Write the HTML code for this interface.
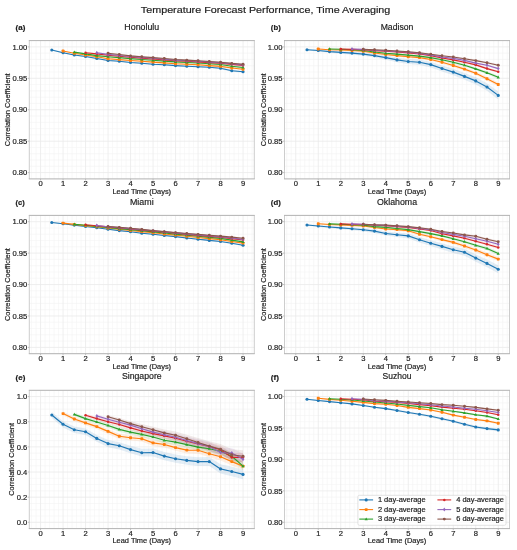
<!DOCTYPE html>
<html><head><meta charset="utf-8"><style>
html,body{margin:0;padding:0;background:#fff;}
body{width:517px;height:550px;overflow:hidden;}
svg{display:block;filter:blur(0.35px);}
text{font-family:"Liberation Sans",sans-serif;fill:#1c1c1c;stroke:#1c1c1c;stroke-width:0.18px;}
</style></head><body>
<svg width="517" height="550" viewBox="0 0 517 550">
<rect x="0" y="0" width="517" height="550" fill="#fff"/>
<text x="265.55" y="12.50" font-size="9.60" text-anchor="middle" textLength="249.38" lengthAdjust="spacingAndGlyphs">Temperature Forecast Performance, Time Averaging</text>
<path d="M31.55 40.60V178.90M36.05 40.60V178.90M45.05 40.60V178.90M49.55 40.60V178.90M54.05 40.60V178.90M58.55 40.60V178.90M67.55 40.60V178.90M72.05 40.60V178.90M76.55 40.60V178.90M81.05 40.60V178.90M90.05 40.60V178.90M94.55 40.60V178.90M99.05 40.60V178.90M103.55 40.60V178.90M112.55 40.60V178.90M117.05 40.60V178.90M121.55 40.60V178.90M126.05 40.60V178.90M135.05 40.60V178.90M139.55 40.60V178.90M144.05 40.60V178.90M148.55 40.60V178.90M157.55 40.60V178.90M162.05 40.60V178.90M166.55 40.60V178.90M171.05 40.60V178.90M180.05 40.60V178.90M184.55 40.60V178.90M189.05 40.60V178.90M193.55 40.60V178.90M202.55 40.60V178.90M207.05 40.60V178.90M211.55 40.60V178.90M216.05 40.60V178.90M225.05 40.60V178.90M229.55 40.60V178.90M234.05 40.60V178.90M238.55 40.60V178.90M247.55 40.60V178.90M252.05 40.60V178.90M29.30 178.90H254.30M29.30 166.33H254.30M29.30 160.04H254.30M29.30 153.75H254.30M29.30 147.47H254.30M29.30 134.90H254.30M29.30 128.61H254.30M29.30 122.32H254.30M29.30 116.04H254.30M29.30 103.46H254.30M29.30 97.18H254.30M29.30 90.89H254.30M29.30 84.60H254.30M29.30 72.03H254.30M29.30 65.75H254.30M29.30 59.46H254.30M29.30 53.17H254.30M29.30 40.60H254.30" stroke="#f3f3f3" stroke-width="0.6" fill="none"/>
<path d="M40.55 40.60V178.90M63.05 40.60V178.90M85.55 40.60V178.90M108.05 40.60V178.90M130.55 40.60V178.90M153.05 40.60V178.90M175.55 40.60V178.90M198.05 40.60V178.90M220.55 40.60V178.90M243.05 40.60V178.90M29.30 172.61H254.30M29.30 141.18H254.30M29.30 109.75H254.30M29.30 78.32H254.30M29.30 46.89H254.30" stroke="#eaeaea" stroke-width="0.8" fill="none"/>
<path d="M51.80 49.40 L63.05 52.08 L74.30 54.35 L85.55 55.83 L96.80 57.81 L108.05 59.78 L119.30 60.56 L130.55 61.74 L141.80 62.41 L153.05 63.39 L164.30 63.96 L175.55 64.74 L186.80 65.32 L198.05 65.79 L209.30 66.27 L220.55 67.35 L231.80 69.72 L243.05 70.80 L243.05 72.80 L231.80 71.68 L220.55 69.25 L209.30 68.13 L198.05 67.61 L186.80 67.08 L175.55 66.46 L164.30 65.64 L153.05 65.01 L141.80 63.99 L130.55 63.26 L119.30 62.04 L108.05 61.22 L96.80 59.19 L85.55 57.17 L74.30 55.65 L63.05 53.32 L51.80 50.60Z" fill="#1f77b4" fill-opacity="0.12" stroke="none"/>
<path d="M63.05 50.40 L74.30 52.67 L85.55 54.35 L96.80 56.12 L108.05 58.00 L119.30 58.88 L130.55 59.75 L141.80 60.52 L153.05 61.30 L164.30 62.08 L175.55 62.85 L186.80 63.38 L198.05 63.90 L209.30 64.67 L220.55 65.45 L231.80 67.03 L243.05 68.20 L243.05 70.20 L231.80 68.97 L220.55 67.35 L209.30 66.52 L198.05 65.70 L186.80 65.12 L175.55 64.55 L164.30 63.73 L153.05 62.90 L141.80 62.07 L130.55 61.25 L119.30 60.33 L108.05 59.40 L96.80 57.47 L85.55 55.65 L74.30 53.92 L63.05 51.60Z" fill="#ff7f0e" fill-opacity="0.12" stroke="none"/>
<path d="M74.30 51.50 L85.55 53.27 L96.80 54.95 L108.05 56.02 L119.30 56.94 L130.55 57.87 L141.80 58.69 L153.05 59.51 L164.30 60.29 L175.55 61.06 L186.80 61.58 L198.05 62.11 L209.30 62.83 L220.55 63.55 L231.80 65.23 L243.05 66.50 L243.05 68.50 L231.80 67.17 L220.55 65.45 L209.30 64.67 L198.05 63.89 L186.80 63.32 L175.55 62.74 L164.30 61.91 L153.05 61.09 L141.80 60.21 L130.55 59.33 L119.30 58.36 L108.05 57.38 L96.80 56.25 L85.55 54.53 L74.30 52.70Z" fill="#2ca02c" fill-opacity="0.12" stroke="none"/>
<path d="M85.55 52.10 L96.80 53.27 L108.05 54.54 L119.30 55.51 L130.55 56.49 L141.80 57.36 L153.05 58.23 L164.30 59.05 L175.55 59.87 L186.80 60.44 L198.05 61.01 L209.30 61.69 L220.55 62.36 L231.80 63.38 L243.05 64.40 L243.05 66.40 L231.80 65.32 L220.55 64.24 L209.30 63.51 L198.05 62.79 L186.80 62.16 L175.55 61.53 L164.30 60.65 L153.05 59.77 L141.80 58.84 L130.55 57.91 L119.30 56.89 L108.05 55.86 L96.80 54.53 L85.55 53.30Z" fill="#d62728" fill-opacity="0.12" stroke="none"/>
<path d="M96.80 52.10 L108.05 53.77 L119.30 54.79 L130.55 55.81 L141.80 56.68 L153.05 57.55 L164.30 58.42 L175.55 59.28 L186.80 59.85 L198.05 60.42 L209.30 61.09 L220.55 61.76 L231.80 62.83 L243.05 63.90 L243.05 65.90 L231.80 64.77 L220.55 63.64 L209.30 62.91 L198.05 62.18 L186.80 61.55 L175.55 60.92 L164.30 59.98 L153.05 59.05 L141.80 58.12 L130.55 57.19 L119.30 56.11 L108.05 55.03 L96.80 53.30Z" fill="#9467bd" fill-opacity="0.12" stroke="none"/>
<path d="M108.05 52.60 L119.30 53.92 L130.55 55.23 L141.80 56.05 L153.05 56.87 L164.30 57.78 L175.55 58.70 L186.80 59.32 L198.05 59.93 L209.30 60.60 L220.55 61.27 L231.80 62.43 L243.05 63.30 L243.05 65.30 L231.80 64.37 L220.55 63.13 L209.30 62.40 L198.05 61.67 L186.80 60.98 L175.55 60.30 L164.30 59.32 L153.05 58.33 L141.80 57.45 L130.55 56.57 L119.30 55.18 L108.05 53.80Z" fill="#8c564b" fill-opacity="0.12" stroke="none"/>
<path d="M51.80 50.00 L63.05 52.70 L74.30 55.00 L85.55 56.50 L96.80 58.50 L108.05 60.50 L119.30 61.30 L130.55 62.50 L141.80 63.20 L153.05 64.20 L164.30 64.80 L175.55 65.60 L186.80 66.20 L198.05 66.70 L209.30 67.20 L220.55 68.30 L231.80 70.70 L243.05 71.80" stroke="#1f77b4" stroke-width="1.15" fill="none" stroke-linejoin="round"/>
<circle cx="51.80" cy="50.00" r="1.55" fill="#1f77b4"/>
<circle cx="63.05" cy="52.70" r="1.55" fill="#1f77b4"/>
<circle cx="74.30" cy="55.00" r="1.55" fill="#1f77b4"/>
<circle cx="85.55" cy="56.50" r="1.55" fill="#1f77b4"/>
<circle cx="96.80" cy="58.50" r="1.55" fill="#1f77b4"/>
<circle cx="108.05" cy="60.50" r="1.55" fill="#1f77b4"/>
<circle cx="119.30" cy="61.30" r="1.55" fill="#1f77b4"/>
<circle cx="130.55" cy="62.50" r="1.55" fill="#1f77b4"/>
<circle cx="141.80" cy="63.20" r="1.55" fill="#1f77b4"/>
<circle cx="153.05" cy="64.20" r="1.55" fill="#1f77b4"/>
<circle cx="164.30" cy="64.80" r="1.55" fill="#1f77b4"/>
<circle cx="175.55" cy="65.60" r="1.55" fill="#1f77b4"/>
<circle cx="186.80" cy="66.20" r="1.55" fill="#1f77b4"/>
<circle cx="198.05" cy="66.70" r="1.55" fill="#1f77b4"/>
<circle cx="209.30" cy="67.20" r="1.55" fill="#1f77b4"/>
<circle cx="220.55" cy="68.30" r="1.55" fill="#1f77b4"/>
<circle cx="231.80" cy="70.70" r="1.55" fill="#1f77b4"/>
<circle cx="243.05" cy="71.80" r="1.55" fill="#1f77b4"/>
<path d="M63.05 51.00 L74.30 53.30 L85.55 55.00 L96.80 56.80 L108.05 58.70 L119.30 59.60 L130.55 60.50 L141.80 61.30 L153.05 62.10 L164.30 62.90 L175.55 63.70 L186.80 64.25 L198.05 64.80 L209.30 65.60 L220.55 66.40 L231.80 68.00 L243.05 69.20" stroke="#ff7f0e" stroke-width="1.15" fill="none" stroke-linejoin="round"/>
<rect x="61.60" y="49.55" width="2.9" height="2.9" rx="0.7" fill="#ff7f0e"/>
<rect x="72.85" y="51.85" width="2.9" height="2.9" rx="0.7" fill="#ff7f0e"/>
<rect x="84.10" y="53.55" width="2.9" height="2.9" rx="0.7" fill="#ff7f0e"/>
<rect x="95.35" y="55.35" width="2.9" height="2.9" rx="0.7" fill="#ff7f0e"/>
<rect x="106.60" y="57.25" width="2.9" height="2.9" rx="0.7" fill="#ff7f0e"/>
<rect x="117.85" y="58.15" width="2.9" height="2.9" rx="0.7" fill="#ff7f0e"/>
<rect x="129.10" y="59.05" width="2.9" height="2.9" rx="0.7" fill="#ff7f0e"/>
<rect x="140.35" y="59.85" width="2.9" height="2.9" rx="0.7" fill="#ff7f0e"/>
<rect x="151.60" y="60.65" width="2.9" height="2.9" rx="0.7" fill="#ff7f0e"/>
<rect x="162.85" y="61.45" width="2.9" height="2.9" rx="0.7" fill="#ff7f0e"/>
<rect x="174.10" y="62.25" width="2.9" height="2.9" rx="0.7" fill="#ff7f0e"/>
<rect x="185.35" y="62.80" width="2.9" height="2.9" rx="0.7" fill="#ff7f0e"/>
<rect x="196.60" y="63.35" width="2.9" height="2.9" rx="0.7" fill="#ff7f0e"/>
<rect x="207.85" y="64.15" width="2.9" height="2.9" rx="0.7" fill="#ff7f0e"/>
<rect x="219.10" y="64.95" width="2.9" height="2.9" rx="0.7" fill="#ff7f0e"/>
<rect x="230.35" y="66.55" width="2.9" height="2.9" rx="0.7" fill="#ff7f0e"/>
<rect x="241.60" y="67.75" width="2.9" height="2.9" rx="0.7" fill="#ff7f0e"/>
<path d="M74.30 52.10 L85.55 53.90 L96.80 55.60 L108.05 56.70 L119.30 57.65 L130.55 58.60 L141.80 59.45 L153.05 60.30 L164.30 61.10 L175.55 61.90 L186.80 62.45 L198.05 63.00 L209.30 63.75 L220.55 64.50 L231.80 66.20 L243.05 67.50" stroke="#2ca02c" stroke-width="1.15" fill="none" stroke-linejoin="round"/>
<path d="M74.30 50.40L75.90 53.20L72.70 53.20Z" fill="#2ca02c"/>
<path d="M85.55 52.20L87.15 55.00L83.95 55.00Z" fill="#2ca02c"/>
<path d="M96.80 53.90L98.40 56.70L95.20 56.70Z" fill="#2ca02c"/>
<path d="M108.05 55.00L109.65 57.80L106.45 57.80Z" fill="#2ca02c"/>
<path d="M119.30 55.95L120.90 58.75L117.70 58.75Z" fill="#2ca02c"/>
<path d="M130.55 56.90L132.15 59.70L128.95 59.70Z" fill="#2ca02c"/>
<path d="M141.80 57.75L143.40 60.55L140.20 60.55Z" fill="#2ca02c"/>
<path d="M153.05 58.60L154.65 61.40L151.45 61.40Z" fill="#2ca02c"/>
<path d="M164.30 59.40L165.90 62.20L162.70 62.20Z" fill="#2ca02c"/>
<path d="M175.55 60.20L177.15 63.00L173.95 63.00Z" fill="#2ca02c"/>
<path d="M186.80 60.75L188.40 63.55L185.20 63.55Z" fill="#2ca02c"/>
<path d="M198.05 61.30L199.65 64.10L196.45 64.10Z" fill="#2ca02c"/>
<path d="M209.30 62.05L210.90 64.85L207.70 64.85Z" fill="#2ca02c"/>
<path d="M220.55 62.80L222.15 65.60L218.95 65.60Z" fill="#2ca02c"/>
<path d="M231.80 64.50L233.40 67.30L230.20 67.30Z" fill="#2ca02c"/>
<path d="M243.05 65.80L244.65 68.60L241.45 68.60Z" fill="#2ca02c"/>
<path d="M85.55 52.70 L96.80 53.90 L108.05 55.20 L119.30 56.20 L130.55 57.20 L141.80 58.10 L153.05 59.00 L164.30 59.85 L175.55 60.70 L186.80 61.30 L198.05 61.90 L209.30 62.60 L220.55 63.30 L231.80 64.35 L243.05 65.40" stroke="#d62728" stroke-width="1.15" fill="none" stroke-linejoin="round"/>
<circle cx="85.55" cy="52.70" r="1.25" fill="#d62728"/>
<circle cx="96.80" cy="53.90" r="1.25" fill="#d62728"/>
<circle cx="108.05" cy="55.20" r="1.25" fill="#d62728"/>
<circle cx="119.30" cy="56.20" r="1.25" fill="#d62728"/>
<circle cx="130.55" cy="57.20" r="1.25" fill="#d62728"/>
<circle cx="141.80" cy="58.10" r="1.25" fill="#d62728"/>
<circle cx="153.05" cy="59.00" r="1.25" fill="#d62728"/>
<circle cx="164.30" cy="59.85" r="1.25" fill="#d62728"/>
<circle cx="175.55" cy="60.70" r="1.25" fill="#d62728"/>
<circle cx="186.80" cy="61.30" r="1.25" fill="#d62728"/>
<circle cx="198.05" cy="61.90" r="1.25" fill="#d62728"/>
<circle cx="209.30" cy="62.60" r="1.25" fill="#d62728"/>
<circle cx="220.55" cy="63.30" r="1.25" fill="#d62728"/>
<circle cx="231.80" cy="64.35" r="1.25" fill="#d62728"/>
<circle cx="243.05" cy="65.40" r="1.25" fill="#d62728"/>
<path d="M96.80 52.70 L108.05 54.40 L119.30 55.45 L130.55 56.50 L141.80 57.40 L153.05 58.30 L164.30 59.20 L175.55 60.10 L186.80 60.70 L198.05 61.30 L209.30 62.00 L220.55 62.70 L231.80 63.80 L243.05 64.90" stroke="#9467bd" stroke-width="1.15" fill="none" stroke-linejoin="round"/>
<path d="M96.80 50.70L98.15 52.70L96.80 54.70L95.45 52.70Z" fill="#9467bd"/>
<path d="M108.05 52.40L109.40 54.40L108.05 56.40L106.70 54.40Z" fill="#9467bd"/>
<path d="M119.30 53.45L120.65 55.45L119.30 57.45L117.95 55.45Z" fill="#9467bd"/>
<path d="M130.55 54.50L131.90 56.50L130.55 58.50L129.20 56.50Z" fill="#9467bd"/>
<path d="M141.80 55.40L143.15 57.40L141.80 59.40L140.45 57.40Z" fill="#9467bd"/>
<path d="M153.05 56.30L154.40 58.30L153.05 60.30L151.70 58.30Z" fill="#9467bd"/>
<path d="M164.30 57.20L165.65 59.20L164.30 61.20L162.95 59.20Z" fill="#9467bd"/>
<path d="M175.55 58.10L176.90 60.10L175.55 62.10L174.20 60.10Z" fill="#9467bd"/>
<path d="M186.80 58.70L188.15 60.70L186.80 62.70L185.45 60.70Z" fill="#9467bd"/>
<path d="M198.05 59.30L199.40 61.30L198.05 63.30L196.70 61.30Z" fill="#9467bd"/>
<path d="M209.30 60.00L210.65 62.00L209.30 64.00L207.95 62.00Z" fill="#9467bd"/>
<path d="M220.55 60.70L221.90 62.70L220.55 64.70L219.20 62.70Z" fill="#9467bd"/>
<path d="M231.80 61.80L233.15 63.80L231.80 65.80L230.45 63.80Z" fill="#9467bd"/>
<path d="M243.05 62.90L244.40 64.90L243.05 66.90L241.70 64.90Z" fill="#9467bd"/>
<path d="M108.05 53.20 L119.30 54.55 L130.55 55.90 L141.80 56.75 L153.05 57.60 L164.30 58.55 L175.55 59.50 L186.80 60.15 L198.05 60.80 L209.30 61.50 L220.55 62.20 L231.80 63.40 L243.05 64.30" stroke="#8c564b" stroke-width="1.15" fill="none" stroke-linejoin="round"/>
<circle cx="108.05" cy="53.20" r="1.45" fill="#8c564b"/>
<circle cx="119.30" cy="54.55" r="1.45" fill="#8c564b"/>
<circle cx="130.55" cy="55.90" r="1.45" fill="#8c564b"/>
<circle cx="141.80" cy="56.75" r="1.45" fill="#8c564b"/>
<circle cx="153.05" cy="57.60" r="1.45" fill="#8c564b"/>
<circle cx="164.30" cy="58.55" r="1.45" fill="#8c564b"/>
<circle cx="175.55" cy="59.50" r="1.45" fill="#8c564b"/>
<circle cx="186.80" cy="60.15" r="1.45" fill="#8c564b"/>
<circle cx="198.05" cy="60.80" r="1.45" fill="#8c564b"/>
<circle cx="209.30" cy="61.50" r="1.45" fill="#8c564b"/>
<circle cx="220.55" cy="62.20" r="1.45" fill="#8c564b"/>
<circle cx="231.80" cy="63.40" r="1.45" fill="#8c564b"/>
<circle cx="243.05" cy="64.30" r="1.45" fill="#8c564b"/>
<path d="M29.30 40.60V178.90M254.30 40.60V178.90" fill="none" stroke="#cdcdcd" stroke-width="1"/>
<path d="M28.80 40.60H254.80M28.80 178.90H254.80" fill="none" stroke="#b3b3b3" stroke-width="1"/>
<path d="M40.55 178.90v1.6M63.05 178.90v1.6M85.55 178.90v1.6M108.05 178.90v1.6M130.55 178.90v1.6M153.05 178.90v1.6M175.55 178.90v1.6M198.05 178.90v1.6M220.55 178.90v1.6M243.05 178.90v1.6M29.30 172.61h-1.6M29.30 141.18h-1.6M29.30 109.75h-1.6M29.30 78.32h-1.6M29.30 46.89h-1.6" stroke="#b3b3b3" stroke-width="0.8" fill="none"/>
<text x="40.55" y="185.90" font-size="7.65" text-anchor="middle" textLength="4.23" lengthAdjust="spacingAndGlyphs">0</text>
<text x="63.05" y="185.90" font-size="7.65" text-anchor="middle" textLength="4.23" lengthAdjust="spacingAndGlyphs">1</text>
<text x="85.55" y="185.90" font-size="7.65" text-anchor="middle" textLength="4.23" lengthAdjust="spacingAndGlyphs">2</text>
<text x="108.05" y="185.90" font-size="7.65" text-anchor="middle" textLength="4.23" lengthAdjust="spacingAndGlyphs">3</text>
<text x="130.55" y="185.90" font-size="7.65" text-anchor="middle" textLength="4.23" lengthAdjust="spacingAndGlyphs">4</text>
<text x="153.05" y="185.90" font-size="7.65" text-anchor="middle" textLength="4.23" lengthAdjust="spacingAndGlyphs">5</text>
<text x="175.55" y="185.90" font-size="7.65" text-anchor="middle" textLength="4.23" lengthAdjust="spacingAndGlyphs">6</text>
<text x="198.05" y="185.90" font-size="7.65" text-anchor="middle" textLength="4.23" lengthAdjust="spacingAndGlyphs">7</text>
<text x="220.55" y="185.90" font-size="7.65" text-anchor="middle" textLength="4.23" lengthAdjust="spacingAndGlyphs">8</text>
<text x="243.05" y="185.90" font-size="7.65" text-anchor="middle" textLength="4.23" lengthAdjust="spacingAndGlyphs">9</text>
<text x="27.30" y="175.31" font-size="7.65" text-anchor="end" textLength="14.81" lengthAdjust="spacingAndGlyphs">0.80</text>
<text x="27.30" y="143.88" font-size="7.65" text-anchor="end" textLength="14.81" lengthAdjust="spacingAndGlyphs">0.85</text>
<text x="27.30" y="112.45" font-size="7.65" text-anchor="end" textLength="14.81" lengthAdjust="spacingAndGlyphs">0.90</text>
<text x="27.30" y="81.02" font-size="7.65" text-anchor="end" textLength="14.81" lengthAdjust="spacingAndGlyphs">0.95</text>
<text x="27.30" y="49.59" font-size="7.65" text-anchor="end" textLength="14.81" lengthAdjust="spacingAndGlyphs">1.00</text>
<text x="141.80" y="193.70" font-size="7.09" text-anchor="middle" textLength="58.61" lengthAdjust="spacingAndGlyphs">Lead Time (Days)</text>
<text x="10.40" y="109.75" font-size="6.90" text-anchor="middle" textLength="72.87" lengthAdjust="spacingAndGlyphs" transform="rotate(-90 10.40 109.75)">Correlation Coefficient</text>
<text x="141.80" y="29.70" font-size="8.66" text-anchor="middle" textLength="34.88" lengthAdjust="spacingAndGlyphs">Honolulu</text>
<text x="15.60" y="30.30" font-size="6.89" font-weight="bold" textLength="9.69" lengthAdjust="spacingAndGlyphs">(a)</text>
<path d="M286.75 40.60V178.90M291.25 40.60V178.90M300.25 40.60V178.90M304.75 40.60V178.90M309.25 40.60V178.90M313.75 40.60V178.90M322.75 40.60V178.90M327.25 40.60V178.90M331.75 40.60V178.90M336.25 40.60V178.90M345.25 40.60V178.90M349.75 40.60V178.90M354.25 40.60V178.90M358.75 40.60V178.90M367.75 40.60V178.90M372.25 40.60V178.90M376.75 40.60V178.90M381.25 40.60V178.90M390.25 40.60V178.90M394.75 40.60V178.90M399.25 40.60V178.90M403.75 40.60V178.90M412.75 40.60V178.90M417.25 40.60V178.90M421.75 40.60V178.90M426.25 40.60V178.90M435.25 40.60V178.90M439.75 40.60V178.90M444.25 40.60V178.90M448.75 40.60V178.90M457.75 40.60V178.90M462.25 40.60V178.90M466.75 40.60V178.90M471.25 40.60V178.90M480.25 40.60V178.90M484.75 40.60V178.90M489.25 40.60V178.90M493.75 40.60V178.90M502.75 40.60V178.90M507.25 40.60V178.90M284.50 178.90H509.50M284.50 166.33H509.50M284.50 160.04H509.50M284.50 153.75H509.50M284.50 147.47H509.50M284.50 134.90H509.50M284.50 128.61H509.50M284.50 122.32H509.50M284.50 116.04H509.50M284.50 103.46H509.50M284.50 97.18H509.50M284.50 90.89H509.50M284.50 84.60H509.50M284.50 72.03H509.50M284.50 65.75H509.50M284.50 59.46H509.50M284.50 53.17H509.50M284.50 40.60H509.50" stroke="#f3f3f3" stroke-width="0.6" fill="none"/>
<path d="M295.75 40.60V178.90M318.25 40.60V178.90M340.75 40.60V178.90M363.25 40.60V178.90M385.75 40.60V178.90M408.25 40.60V178.90M430.75 40.60V178.90M453.25 40.60V178.90M475.75 40.60V178.90M498.25 40.60V178.90M284.50 172.61H509.50M284.50 141.18H509.50M284.50 109.75H509.50M284.50 78.32H509.50M284.50 46.89H509.50" stroke="#eaeaea" stroke-width="0.8" fill="none"/>
<path d="M307.00 48.90 L318.25 49.51 L329.50 50.42 L340.75 51.04 L352.00 51.55 L363.25 52.36 L374.50 53.67 L385.75 55.48 L397.00 57.59 L408.25 59.01 L419.50 59.62 L430.75 61.73 L442.00 65.44 L453.25 68.85 L464.50 72.96 L475.75 77.28 L487.00 83.19 L498.25 91.40 L498.25 99.40 L487.00 90.81 L475.75 84.52 L464.50 79.84 L453.25 75.35 L442.00 71.56 L430.75 67.47 L419.50 64.98 L408.25 63.99 L397.00 62.21 L385.75 59.72 L374.50 57.53 L363.25 55.84 L352.00 54.65 L340.75 53.76 L329.50 52.78 L318.25 51.49 L307.00 50.50Z" fill="#1f77b4" fill-opacity="0.12" stroke="none"/>
<path d="M318.25 48.40 L329.50 49.01 L340.75 49.23 L352.00 49.64 L363.25 50.35 L374.50 51.96 L385.75 53.38 L397.00 54.39 L408.25 55.40 L419.50 56.21 L430.75 58.02 L442.00 60.74 L453.25 63.85 L464.50 67.36 L475.75 71.38 L487.00 76.79 L498.25 82.50 L498.25 86.50 L487.00 80.61 L475.75 75.03 L464.50 70.84 L453.25 67.15 L442.00 63.86 L430.75 60.98 L419.50 58.99 L408.25 58.00 L397.00 56.81 L385.75 55.62 L374.50 54.04 L363.25 52.25 L352.00 51.36 L340.75 50.77 L329.50 50.39 L318.25 49.60Z" fill="#ff7f0e" fill-opacity="0.12" stroke="none"/>
<path d="M329.50 48.40 L340.75 48.63 L352.00 48.97 L363.25 49.70 L374.50 51.13 L385.75 52.37 L397.00 53.10 L408.25 54.03 L419.50 54.97 L430.75 56.40 L442.00 58.43 L453.25 60.97 L464.50 63.80 L475.75 67.43 L487.00 71.27 L498.25 75.70 L498.25 78.90 L487.00 74.33 L475.75 70.37 L464.50 66.60 L453.25 63.63 L442.00 60.97 L430.75 58.80 L419.50 57.23 L408.25 56.17 L397.00 55.10 L385.75 54.23 L374.50 52.87 L363.25 51.30 L352.00 50.43 L340.75 49.97 L329.50 49.60Z" fill="#2ca02c" fill-opacity="0.12" stroke="none"/>
<path d="M340.75 48.50 L352.00 48.84 L363.25 49.09 L374.50 49.93 L385.75 50.47 L397.00 51.21 L408.25 52.06 L419.50 53.10 L430.75 54.64 L442.00 56.99 L453.25 58.83 L464.50 61.17 L475.75 63.71 L487.00 67.36 L498.25 70.50 L498.25 73.10 L487.00 69.84 L475.75 66.09 L464.50 63.43 L453.25 60.97 L442.00 59.01 L430.75 56.56 L419.50 54.90 L408.25 53.74 L397.00 52.79 L385.75 51.93 L374.50 51.27 L363.25 50.31 L352.00 49.96 L340.75 49.50Z" fill="#d62728" fill-opacity="0.12" stroke="none"/>
<path d="M352.00 48.50 L363.25 48.85 L374.50 49.69 L385.75 50.14 L397.00 50.78 L408.25 51.53 L419.50 52.58 L430.75 54.02 L442.00 56.07 L453.25 57.42 L464.50 59.36 L475.75 62.01 L487.00 64.05 L498.25 67.40 L498.25 69.80 L487.00 66.35 L475.75 64.19 L464.50 61.44 L453.25 59.38 L442.00 57.93 L430.75 55.78 L419.50 54.22 L408.25 53.07 L397.00 52.22 L385.75 51.46 L374.50 50.91 L363.25 49.95 L352.00 49.50Z" fill="#9467bd" fill-opacity="0.12" stroke="none"/>
<path d="M363.25 48.80 L374.50 49.15 L385.75 49.70 L397.00 50.35 L408.25 51.10 L419.50 52.05 L430.75 53.40 L442.00 54.95 L453.25 56.10 L464.50 57.75 L475.75 59.60 L487.00 61.75 L498.25 64.10 L498.25 66.30 L487.00 63.85 L475.75 61.60 L464.50 59.65 L453.25 57.90 L442.00 56.65 L430.75 55.00 L419.50 53.55 L408.25 52.50 L397.00 51.65 L385.75 50.90 L374.50 50.25 L363.25 49.80Z" fill="#8c564b" fill-opacity="0.12" stroke="none"/>
<path d="M307.00 49.70 L318.25 50.50 L329.50 51.60 L340.75 52.40 L352.00 53.10 L363.25 54.10 L374.50 55.60 L385.75 57.60 L397.00 59.90 L408.25 61.50 L419.50 62.30 L430.75 64.60 L442.00 68.50 L453.25 72.10 L464.50 76.40 L475.75 80.90 L487.00 87.00 L498.25 95.40" stroke="#1f77b4" stroke-width="1.15" fill="none" stroke-linejoin="round"/>
<circle cx="307.00" cy="49.70" r="1.55" fill="#1f77b4"/>
<circle cx="318.25" cy="50.50" r="1.55" fill="#1f77b4"/>
<circle cx="329.50" cy="51.60" r="1.55" fill="#1f77b4"/>
<circle cx="340.75" cy="52.40" r="1.55" fill="#1f77b4"/>
<circle cx="352.00" cy="53.10" r="1.55" fill="#1f77b4"/>
<circle cx="363.25" cy="54.10" r="1.55" fill="#1f77b4"/>
<circle cx="374.50" cy="55.60" r="1.55" fill="#1f77b4"/>
<circle cx="385.75" cy="57.60" r="1.55" fill="#1f77b4"/>
<circle cx="397.00" cy="59.90" r="1.55" fill="#1f77b4"/>
<circle cx="408.25" cy="61.50" r="1.55" fill="#1f77b4"/>
<circle cx="419.50" cy="62.30" r="1.55" fill="#1f77b4"/>
<circle cx="430.75" cy="64.60" r="1.55" fill="#1f77b4"/>
<circle cx="442.00" cy="68.50" r="1.55" fill="#1f77b4"/>
<circle cx="453.25" cy="72.10" r="1.55" fill="#1f77b4"/>
<circle cx="464.50" cy="76.40" r="1.55" fill="#1f77b4"/>
<circle cx="475.75" cy="80.90" r="1.55" fill="#1f77b4"/>
<circle cx="487.00" cy="87.00" r="1.55" fill="#1f77b4"/>
<circle cx="498.25" cy="95.40" r="1.55" fill="#1f77b4"/>
<path d="M318.25 49.00 L329.50 49.70 L340.75 50.00 L352.00 50.50 L363.25 51.30 L374.50 53.00 L385.75 54.50 L397.00 55.60 L408.25 56.70 L419.50 57.60 L430.75 59.50 L442.00 62.30 L453.25 65.50 L464.50 69.10 L475.75 73.20 L487.00 78.70 L498.25 84.50" stroke="#ff7f0e" stroke-width="1.15" fill="none" stroke-linejoin="round"/>
<rect x="316.80" y="47.55" width="2.9" height="2.9" rx="0.7" fill="#ff7f0e"/>
<rect x="328.05" y="48.25" width="2.9" height="2.9" rx="0.7" fill="#ff7f0e"/>
<rect x="339.30" y="48.55" width="2.9" height="2.9" rx="0.7" fill="#ff7f0e"/>
<rect x="350.55" y="49.05" width="2.9" height="2.9" rx="0.7" fill="#ff7f0e"/>
<rect x="361.80" y="49.85" width="2.9" height="2.9" rx="0.7" fill="#ff7f0e"/>
<rect x="373.05" y="51.55" width="2.9" height="2.9" rx="0.7" fill="#ff7f0e"/>
<rect x="384.30" y="53.05" width="2.9" height="2.9" rx="0.7" fill="#ff7f0e"/>
<rect x="395.55" y="54.15" width="2.9" height="2.9" rx="0.7" fill="#ff7f0e"/>
<rect x="406.80" y="55.25" width="2.9" height="2.9" rx="0.7" fill="#ff7f0e"/>
<rect x="418.05" y="56.15" width="2.9" height="2.9" rx="0.7" fill="#ff7f0e"/>
<rect x="429.30" y="58.05" width="2.9" height="2.9" rx="0.7" fill="#ff7f0e"/>
<rect x="440.55" y="60.85" width="2.9" height="2.9" rx="0.7" fill="#ff7f0e"/>
<rect x="451.80" y="64.05" width="2.9" height="2.9" rx="0.7" fill="#ff7f0e"/>
<rect x="463.05" y="67.65" width="2.9" height="2.9" rx="0.7" fill="#ff7f0e"/>
<rect x="474.30" y="71.75" width="2.9" height="2.9" rx="0.7" fill="#ff7f0e"/>
<rect x="485.55" y="77.25" width="2.9" height="2.9" rx="0.7" fill="#ff7f0e"/>
<rect x="496.80" y="83.05" width="2.9" height="2.9" rx="0.7" fill="#ff7f0e"/>
<path d="M329.50 49.00 L340.75 49.30 L352.00 49.70 L363.25 50.50 L374.50 52.00 L385.75 53.30 L397.00 54.10 L408.25 55.10 L419.50 56.10 L430.75 57.60 L442.00 59.70 L453.25 62.30 L464.50 65.20 L475.75 68.90 L487.00 72.80 L498.25 77.30" stroke="#2ca02c" stroke-width="1.15" fill="none" stroke-linejoin="round"/>
<path d="M329.50 47.30L331.10 50.10L327.90 50.10Z" fill="#2ca02c"/>
<path d="M340.75 47.60L342.35 50.40L339.15 50.40Z" fill="#2ca02c"/>
<path d="M352.00 48.00L353.60 50.80L350.40 50.80Z" fill="#2ca02c"/>
<path d="M363.25 48.80L364.85 51.60L361.65 51.60Z" fill="#2ca02c"/>
<path d="M374.50 50.30L376.10 53.10L372.90 53.10Z" fill="#2ca02c"/>
<path d="M385.75 51.60L387.35 54.40L384.15 54.40Z" fill="#2ca02c"/>
<path d="M397.00 52.40L398.60 55.20L395.40 55.20Z" fill="#2ca02c"/>
<path d="M408.25 53.40L409.85 56.20L406.65 56.20Z" fill="#2ca02c"/>
<path d="M419.50 54.40L421.10 57.20L417.90 57.20Z" fill="#2ca02c"/>
<path d="M430.75 55.90L432.35 58.70L429.15 58.70Z" fill="#2ca02c"/>
<path d="M442.00 58.00L443.60 60.80L440.40 60.80Z" fill="#2ca02c"/>
<path d="M453.25 60.60L454.85 63.40L451.65 63.40Z" fill="#2ca02c"/>
<path d="M464.50 63.50L466.10 66.30L462.90 66.30Z" fill="#2ca02c"/>
<path d="M475.75 67.20L477.35 70.00L474.15 70.00Z" fill="#2ca02c"/>
<path d="M487.00 71.10L488.60 73.90L485.40 73.90Z" fill="#2ca02c"/>
<path d="M498.25 75.60L499.85 78.40L496.65 78.40Z" fill="#2ca02c"/>
<path d="M340.75 49.00 L352.00 49.40 L363.25 49.70 L374.50 50.60 L385.75 51.20 L397.00 52.00 L408.25 52.90 L419.50 54.00 L430.75 55.60 L442.00 58.00 L453.25 59.90 L464.50 62.30 L475.75 64.90 L487.00 68.60 L498.25 71.80" stroke="#d62728" stroke-width="1.15" fill="none" stroke-linejoin="round"/>
<circle cx="340.75" cy="49.00" r="1.25" fill="#d62728"/>
<circle cx="352.00" cy="49.40" r="1.25" fill="#d62728"/>
<circle cx="363.25" cy="49.70" r="1.25" fill="#d62728"/>
<circle cx="374.50" cy="50.60" r="1.25" fill="#d62728"/>
<circle cx="385.75" cy="51.20" r="1.25" fill="#d62728"/>
<circle cx="397.00" cy="52.00" r="1.25" fill="#d62728"/>
<circle cx="408.25" cy="52.90" r="1.25" fill="#d62728"/>
<circle cx="419.50" cy="54.00" r="1.25" fill="#d62728"/>
<circle cx="430.75" cy="55.60" r="1.25" fill="#d62728"/>
<circle cx="442.00" cy="58.00" r="1.25" fill="#d62728"/>
<circle cx="453.25" cy="59.90" r="1.25" fill="#d62728"/>
<circle cx="464.50" cy="62.30" r="1.25" fill="#d62728"/>
<circle cx="475.75" cy="64.90" r="1.25" fill="#d62728"/>
<circle cx="487.00" cy="68.60" r="1.25" fill="#d62728"/>
<circle cx="498.25" cy="71.80" r="1.25" fill="#d62728"/>
<path d="M352.00 49.00 L363.25 49.40 L374.50 50.30 L385.75 50.80 L397.00 51.50 L408.25 52.30 L419.50 53.40 L430.75 54.90 L442.00 57.00 L453.25 58.40 L464.50 60.40 L475.75 63.10 L487.00 65.20 L498.25 68.60" stroke="#9467bd" stroke-width="1.15" fill="none" stroke-linejoin="round"/>
<path d="M352.00 47.00L353.35 49.00L352.00 51.00L350.65 49.00Z" fill="#9467bd"/>
<path d="M363.25 47.40L364.60 49.40L363.25 51.40L361.90 49.40Z" fill="#9467bd"/>
<path d="M374.50 48.30L375.85 50.30L374.50 52.30L373.15 50.30Z" fill="#9467bd"/>
<path d="M385.75 48.80L387.10 50.80L385.75 52.80L384.40 50.80Z" fill="#9467bd"/>
<path d="M397.00 49.50L398.35 51.50L397.00 53.50L395.65 51.50Z" fill="#9467bd"/>
<path d="M408.25 50.30L409.60 52.30L408.25 54.30L406.90 52.30Z" fill="#9467bd"/>
<path d="M419.50 51.40L420.85 53.40L419.50 55.40L418.15 53.40Z" fill="#9467bd"/>
<path d="M430.75 52.90L432.10 54.90L430.75 56.90L429.40 54.90Z" fill="#9467bd"/>
<path d="M442.00 55.00L443.35 57.00L442.00 59.00L440.65 57.00Z" fill="#9467bd"/>
<path d="M453.25 56.40L454.60 58.40L453.25 60.40L451.90 58.40Z" fill="#9467bd"/>
<path d="M464.50 58.40L465.85 60.40L464.50 62.40L463.15 60.40Z" fill="#9467bd"/>
<path d="M475.75 61.10L477.10 63.10L475.75 65.10L474.40 63.10Z" fill="#9467bd"/>
<path d="M487.00 63.20L488.35 65.20L487.00 67.20L485.65 65.20Z" fill="#9467bd"/>
<path d="M498.25 66.60L499.60 68.60L498.25 70.60L496.90 68.60Z" fill="#9467bd"/>
<path d="M363.25 49.30 L374.50 49.70 L385.75 50.30 L397.00 51.00 L408.25 51.80 L419.50 52.80 L430.75 54.20 L442.00 55.80 L453.25 57.00 L464.50 58.70 L475.75 60.60 L487.00 62.80 L498.25 65.20" stroke="#8c564b" stroke-width="1.15" fill="none" stroke-linejoin="round"/>
<circle cx="363.25" cy="49.30" r="1.45" fill="#8c564b"/>
<circle cx="374.50" cy="49.70" r="1.45" fill="#8c564b"/>
<circle cx="385.75" cy="50.30" r="1.45" fill="#8c564b"/>
<circle cx="397.00" cy="51.00" r="1.45" fill="#8c564b"/>
<circle cx="408.25" cy="51.80" r="1.45" fill="#8c564b"/>
<circle cx="419.50" cy="52.80" r="1.45" fill="#8c564b"/>
<circle cx="430.75" cy="54.20" r="1.45" fill="#8c564b"/>
<circle cx="442.00" cy="55.80" r="1.45" fill="#8c564b"/>
<circle cx="453.25" cy="57.00" r="1.45" fill="#8c564b"/>
<circle cx="464.50" cy="58.70" r="1.45" fill="#8c564b"/>
<circle cx="475.75" cy="60.60" r="1.45" fill="#8c564b"/>
<circle cx="487.00" cy="62.80" r="1.45" fill="#8c564b"/>
<circle cx="498.25" cy="65.20" r="1.45" fill="#8c564b"/>
<path d="M284.50 40.60V178.90M509.50 40.60V178.90" fill="none" stroke="#cdcdcd" stroke-width="1"/>
<path d="M284.00 40.60H510.00M284.00 178.90H510.00" fill="none" stroke="#b3b3b3" stroke-width="1"/>
<path d="M295.75 178.90v1.6M318.25 178.90v1.6M340.75 178.90v1.6M363.25 178.90v1.6M385.75 178.90v1.6M408.25 178.90v1.6M430.75 178.90v1.6M453.25 178.90v1.6M475.75 178.90v1.6M498.25 178.90v1.6M284.50 172.61h-1.6M284.50 141.18h-1.6M284.50 109.75h-1.6M284.50 78.32h-1.6M284.50 46.89h-1.6" stroke="#b3b3b3" stroke-width="0.8" fill="none"/>
<text x="295.75" y="185.90" font-size="7.65" text-anchor="middle" textLength="4.23" lengthAdjust="spacingAndGlyphs">0</text>
<text x="318.25" y="185.90" font-size="7.65" text-anchor="middle" textLength="4.23" lengthAdjust="spacingAndGlyphs">1</text>
<text x="340.75" y="185.90" font-size="7.65" text-anchor="middle" textLength="4.23" lengthAdjust="spacingAndGlyphs">2</text>
<text x="363.25" y="185.90" font-size="7.65" text-anchor="middle" textLength="4.23" lengthAdjust="spacingAndGlyphs">3</text>
<text x="385.75" y="185.90" font-size="7.65" text-anchor="middle" textLength="4.23" lengthAdjust="spacingAndGlyphs">4</text>
<text x="408.25" y="185.90" font-size="7.65" text-anchor="middle" textLength="4.23" lengthAdjust="spacingAndGlyphs">5</text>
<text x="430.75" y="185.90" font-size="7.65" text-anchor="middle" textLength="4.23" lengthAdjust="spacingAndGlyphs">6</text>
<text x="453.25" y="185.90" font-size="7.65" text-anchor="middle" textLength="4.23" lengthAdjust="spacingAndGlyphs">7</text>
<text x="475.75" y="185.90" font-size="7.65" text-anchor="middle" textLength="4.23" lengthAdjust="spacingAndGlyphs">8</text>
<text x="498.25" y="185.90" font-size="7.65" text-anchor="middle" textLength="4.23" lengthAdjust="spacingAndGlyphs">9</text>
<text x="282.50" y="175.31" font-size="7.65" text-anchor="end" textLength="14.81" lengthAdjust="spacingAndGlyphs">0.80</text>
<text x="282.50" y="143.88" font-size="7.65" text-anchor="end" textLength="14.81" lengthAdjust="spacingAndGlyphs">0.85</text>
<text x="282.50" y="112.45" font-size="7.65" text-anchor="end" textLength="14.81" lengthAdjust="spacingAndGlyphs">0.90</text>
<text x="282.50" y="81.02" font-size="7.65" text-anchor="end" textLength="14.81" lengthAdjust="spacingAndGlyphs">0.95</text>
<text x="282.50" y="49.59" font-size="7.65" text-anchor="end" textLength="14.81" lengthAdjust="spacingAndGlyphs">1.00</text>
<text x="397.00" y="193.70" font-size="7.09" text-anchor="middle" textLength="58.61" lengthAdjust="spacingAndGlyphs">Lead Time (Days)</text>
<text x="265.60" y="109.75" font-size="6.90" text-anchor="middle" textLength="72.87" lengthAdjust="spacingAndGlyphs" transform="rotate(-90 265.60 109.75)">Correlation Coefficient</text>
<text x="397.00" y="29.70" font-size="8.66" text-anchor="middle" textLength="32.70" lengthAdjust="spacingAndGlyphs">Madison</text>
<text x="270.80" y="30.30" font-size="6.89" font-weight="bold" textLength="9.94" lengthAdjust="spacingAndGlyphs">(b)</text>
<path d="M31.55 215.40V353.70M36.05 215.40V353.70M45.05 215.40V353.70M49.55 215.40V353.70M54.05 215.40V353.70M58.55 215.40V353.70M67.55 215.40V353.70M72.05 215.40V353.70M76.55 215.40V353.70M81.05 215.40V353.70M90.05 215.40V353.70M94.55 215.40V353.70M99.05 215.40V353.70M103.55 215.40V353.70M112.55 215.40V353.70M117.05 215.40V353.70M121.55 215.40V353.70M126.05 215.40V353.70M135.05 215.40V353.70M139.55 215.40V353.70M144.05 215.40V353.70M148.55 215.40V353.70M157.55 215.40V353.70M162.05 215.40V353.70M166.55 215.40V353.70M171.05 215.40V353.70M180.05 215.40V353.70M184.55 215.40V353.70M189.05 215.40V353.70M193.55 215.40V353.70M202.55 215.40V353.70M207.05 215.40V353.70M211.55 215.40V353.70M216.05 215.40V353.70M225.05 215.40V353.70M229.55 215.40V353.70M234.05 215.40V353.70M238.55 215.40V353.70M247.55 215.40V353.70M252.05 215.40V353.70M29.30 353.70H254.30M29.30 341.13H254.30M29.30 334.84H254.30M29.30 328.55H254.30M29.30 322.27H254.30M29.30 309.70H254.30M29.30 303.41H254.30M29.30 297.12H254.30M29.30 290.84H254.30M29.30 278.26H254.30M29.30 271.98H254.30M29.30 265.69H254.30M29.30 259.40H254.30M29.30 246.83H254.30M29.30 240.55H254.30M29.30 234.26H254.30M29.30 227.97H254.30M29.30 215.40H254.30" stroke="#f3f3f3" stroke-width="0.6" fill="none"/>
<path d="M40.55 215.40V353.70M63.05 215.40V353.70M85.55 215.40V353.70M108.05 215.40V353.70M130.55 215.40V353.70M153.05 215.40V353.70M175.55 215.40V353.70M198.05 215.40V353.70M220.55 215.40V353.70M243.05 215.40V353.70M29.30 347.41H254.30M29.30 315.98H254.30M29.30 284.55H254.30M29.30 253.12H254.30M29.30 221.69H254.30" stroke="#eaeaea" stroke-width="0.8" fill="none"/>
<path d="M51.80 222.00 L63.05 223.18 L74.30 224.56 L85.55 225.95 L96.80 227.13 L108.05 228.61 L119.30 229.99 L130.55 231.18 L141.80 232.56 L153.05 233.64 L164.30 234.77 L175.55 235.91 L186.80 237.24 L198.05 238.57 L209.30 239.65 L220.55 240.74 L231.80 242.42 L243.05 244.40 L243.05 246.00 L231.80 243.98 L220.55 242.26 L209.30 241.15 L198.05 240.03 L186.80 238.66 L175.55 237.29 L164.30 236.13 L153.05 234.96 L141.80 233.84 L130.55 232.42 L119.30 231.21 L108.05 229.79 L96.80 228.27 L85.55 227.05 L74.30 225.64 L63.05 224.22 L51.80 223.00Z" fill="#1f77b4" fill-opacity="0.12" stroke="none"/>
<path d="M63.05 222.60 L74.30 223.83 L85.55 225.06 L96.80 226.24 L108.05 227.43 L119.30 228.66 L130.55 229.89 L141.80 231.02 L153.05 232.15 L164.30 233.28 L175.55 234.41 L186.80 235.59 L198.05 236.78 L209.30 237.91 L220.55 239.04 L231.80 240.67 L243.05 242.30 L243.05 243.90 L231.80 242.23 L220.55 240.56 L209.30 239.39 L198.05 238.22 L186.80 237.01 L175.55 235.79 L164.30 234.62 L153.05 233.45 L141.80 232.28 L130.55 231.11 L119.30 229.84 L108.05 228.57 L96.80 227.36 L85.55 226.14 L74.30 224.87 L63.05 223.60Z" fill="#ff7f0e" fill-opacity="0.12" stroke="none"/>
<path d="M74.30 223.80 L85.55 224.68 L96.80 225.81 L108.05 226.94 L119.30 228.02 L130.55 229.10 L141.80 230.18 L153.05 231.26 L164.30 232.34 L175.55 233.42 L186.80 234.50 L198.05 235.58 L209.30 236.61 L220.55 237.64 L231.80 239.37 L243.05 241.10 L243.05 242.70 L231.80 240.93 L220.55 239.16 L209.30 238.09 L198.05 237.02 L186.80 235.90 L175.55 234.78 L164.30 233.66 L153.05 232.54 L141.80 231.42 L130.55 230.30 L119.30 229.18 L108.05 228.06 L96.80 226.89 L85.55 225.72 L74.30 224.80Z" fill="#2ca02c" fill-opacity="0.12" stroke="none"/>
<path d="M85.55 224.20 L96.80 225.28 L108.05 226.36 L119.30 227.39 L130.55 228.41 L141.80 229.49 L153.05 230.57 L164.30 231.60 L175.55 232.63 L186.80 233.66 L198.05 234.69 L209.30 235.61 L220.55 236.54 L231.80 237.87 L243.05 239.20 L243.05 240.80 L231.80 239.43 L220.55 238.06 L209.30 237.09 L198.05 236.11 L186.80 235.04 L175.55 233.97 L164.30 232.90 L153.05 231.83 L141.80 230.71 L130.55 229.59 L119.30 228.51 L108.05 227.44 L96.80 226.32 L85.55 225.20Z" fill="#d62728" fill-opacity="0.12" stroke="none"/>
<path d="M96.80 225.00 L108.05 226.18 L119.30 227.10 L130.55 228.03 L141.80 229.11 L153.05 230.18 L164.30 231.21 L175.55 232.24 L186.80 233.22 L198.05 234.19 L209.30 235.07 L220.55 235.95 L231.80 237.27 L243.05 238.60 L243.05 240.20 L231.80 238.83 L220.55 237.45 L209.30 236.53 L198.05 235.61 L186.80 234.58 L175.55 233.56 L164.30 232.49 L153.05 231.42 L141.80 230.29 L130.55 229.17 L119.30 228.20 L108.05 227.22 L96.80 226.00Z" fill="#9467bd" fill-opacity="0.12" stroke="none"/>
<path d="M108.05 226.00 L119.30 226.82 L130.55 227.65 L141.80 228.83 L153.05 230.00 L164.30 230.97 L175.55 231.95 L186.80 232.82 L198.05 233.70 L209.30 234.53 L220.55 235.35 L231.80 236.37 L243.05 237.40 L243.05 239.00 L231.80 237.92 L220.55 236.85 L209.30 235.97 L198.05 235.10 L186.80 234.18 L175.55 233.25 L164.30 232.22 L153.05 231.20 L141.80 229.97 L130.55 228.75 L119.30 227.88 L108.05 227.00Z" fill="#8c564b" fill-opacity="0.12" stroke="none"/>
<path d="M51.80 222.50 L63.05 223.70 L74.30 225.10 L85.55 226.50 L96.80 227.70 L108.05 229.20 L119.30 230.60 L130.55 231.80 L141.80 233.20 L153.05 234.30 L164.30 235.45 L175.55 236.60 L186.80 237.95 L198.05 239.30 L209.30 240.40 L220.55 241.50 L231.80 243.20 L243.05 245.20" stroke="#1f77b4" stroke-width="1.15" fill="none" stroke-linejoin="round"/>
<circle cx="51.80" cy="222.50" r="1.55" fill="#1f77b4"/>
<circle cx="63.05" cy="223.70" r="1.55" fill="#1f77b4"/>
<circle cx="74.30" cy="225.10" r="1.55" fill="#1f77b4"/>
<circle cx="85.55" cy="226.50" r="1.55" fill="#1f77b4"/>
<circle cx="96.80" cy="227.70" r="1.55" fill="#1f77b4"/>
<circle cx="108.05" cy="229.20" r="1.55" fill="#1f77b4"/>
<circle cx="119.30" cy="230.60" r="1.55" fill="#1f77b4"/>
<circle cx="130.55" cy="231.80" r="1.55" fill="#1f77b4"/>
<circle cx="141.80" cy="233.20" r="1.55" fill="#1f77b4"/>
<circle cx="153.05" cy="234.30" r="1.55" fill="#1f77b4"/>
<circle cx="164.30" cy="235.45" r="1.55" fill="#1f77b4"/>
<circle cx="175.55" cy="236.60" r="1.55" fill="#1f77b4"/>
<circle cx="186.80" cy="237.95" r="1.55" fill="#1f77b4"/>
<circle cx="198.05" cy="239.30" r="1.55" fill="#1f77b4"/>
<circle cx="209.30" cy="240.40" r="1.55" fill="#1f77b4"/>
<circle cx="220.55" cy="241.50" r="1.55" fill="#1f77b4"/>
<circle cx="231.80" cy="243.20" r="1.55" fill="#1f77b4"/>
<circle cx="243.05" cy="245.20" r="1.55" fill="#1f77b4"/>
<path d="M63.05 223.10 L74.30 224.35 L85.55 225.60 L96.80 226.80 L108.05 228.00 L119.30 229.25 L130.55 230.50 L141.80 231.65 L153.05 232.80 L164.30 233.95 L175.55 235.10 L186.80 236.30 L198.05 237.50 L209.30 238.65 L220.55 239.80 L231.80 241.45 L243.05 243.10" stroke="#ff7f0e" stroke-width="1.15" fill="none" stroke-linejoin="round"/>
<rect x="61.60" y="221.65" width="2.9" height="2.9" rx="0.7" fill="#ff7f0e"/>
<rect x="72.85" y="222.90" width="2.9" height="2.9" rx="0.7" fill="#ff7f0e"/>
<rect x="84.10" y="224.15" width="2.9" height="2.9" rx="0.7" fill="#ff7f0e"/>
<rect x="95.35" y="225.35" width="2.9" height="2.9" rx="0.7" fill="#ff7f0e"/>
<rect x="106.60" y="226.55" width="2.9" height="2.9" rx="0.7" fill="#ff7f0e"/>
<rect x="117.85" y="227.80" width="2.9" height="2.9" rx="0.7" fill="#ff7f0e"/>
<rect x="129.10" y="229.05" width="2.9" height="2.9" rx="0.7" fill="#ff7f0e"/>
<rect x="140.35" y="230.20" width="2.9" height="2.9" rx="0.7" fill="#ff7f0e"/>
<rect x="151.60" y="231.35" width="2.9" height="2.9" rx="0.7" fill="#ff7f0e"/>
<rect x="162.85" y="232.50" width="2.9" height="2.9" rx="0.7" fill="#ff7f0e"/>
<rect x="174.10" y="233.65" width="2.9" height="2.9" rx="0.7" fill="#ff7f0e"/>
<rect x="185.35" y="234.85" width="2.9" height="2.9" rx="0.7" fill="#ff7f0e"/>
<rect x="196.60" y="236.05" width="2.9" height="2.9" rx="0.7" fill="#ff7f0e"/>
<rect x="207.85" y="237.20" width="2.9" height="2.9" rx="0.7" fill="#ff7f0e"/>
<rect x="219.10" y="238.35" width="2.9" height="2.9" rx="0.7" fill="#ff7f0e"/>
<rect x="230.35" y="240.00" width="2.9" height="2.9" rx="0.7" fill="#ff7f0e"/>
<rect x="241.60" y="241.65" width="2.9" height="2.9" rx="0.7" fill="#ff7f0e"/>
<path d="M74.30 224.30 L85.55 225.20 L96.80 226.35 L108.05 227.50 L119.30 228.60 L130.55 229.70 L141.80 230.80 L153.05 231.90 L164.30 233.00 L175.55 234.10 L186.80 235.20 L198.05 236.30 L209.30 237.35 L220.55 238.40 L231.80 240.15 L243.05 241.90" stroke="#2ca02c" stroke-width="1.15" fill="none" stroke-linejoin="round"/>
<path d="M74.30 222.60L75.90 225.40L72.70 225.40Z" fill="#2ca02c"/>
<path d="M85.55 223.50L87.15 226.30L83.95 226.30Z" fill="#2ca02c"/>
<path d="M96.80 224.65L98.40 227.45L95.20 227.45Z" fill="#2ca02c"/>
<path d="M108.05 225.80L109.65 228.60L106.45 228.60Z" fill="#2ca02c"/>
<path d="M119.30 226.90L120.90 229.70L117.70 229.70Z" fill="#2ca02c"/>
<path d="M130.55 228.00L132.15 230.80L128.95 230.80Z" fill="#2ca02c"/>
<path d="M141.80 229.10L143.40 231.90L140.20 231.90Z" fill="#2ca02c"/>
<path d="M153.05 230.20L154.65 233.00L151.45 233.00Z" fill="#2ca02c"/>
<path d="M164.30 231.30L165.90 234.10L162.70 234.10Z" fill="#2ca02c"/>
<path d="M175.55 232.40L177.15 235.20L173.95 235.20Z" fill="#2ca02c"/>
<path d="M186.80 233.50L188.40 236.30L185.20 236.30Z" fill="#2ca02c"/>
<path d="M198.05 234.60L199.65 237.40L196.45 237.40Z" fill="#2ca02c"/>
<path d="M209.30 235.65L210.90 238.45L207.70 238.45Z" fill="#2ca02c"/>
<path d="M220.55 236.70L222.15 239.50L218.95 239.50Z" fill="#2ca02c"/>
<path d="M231.80 238.45L233.40 241.25L230.20 241.25Z" fill="#2ca02c"/>
<path d="M243.05 240.20L244.65 243.00L241.45 243.00Z" fill="#2ca02c"/>
<path d="M85.55 224.70 L96.80 225.80 L108.05 226.90 L119.30 227.95 L130.55 229.00 L141.80 230.10 L153.05 231.20 L164.30 232.25 L175.55 233.30 L186.80 234.35 L198.05 235.40 L209.30 236.35 L220.55 237.30 L231.80 238.65 L243.05 240.00" stroke="#d62728" stroke-width="1.15" fill="none" stroke-linejoin="round"/>
<circle cx="85.55" cy="224.70" r="1.25" fill="#d62728"/>
<circle cx="96.80" cy="225.80" r="1.25" fill="#d62728"/>
<circle cx="108.05" cy="226.90" r="1.25" fill="#d62728"/>
<circle cx="119.30" cy="227.95" r="1.25" fill="#d62728"/>
<circle cx="130.55" cy="229.00" r="1.25" fill="#d62728"/>
<circle cx="141.80" cy="230.10" r="1.25" fill="#d62728"/>
<circle cx="153.05" cy="231.20" r="1.25" fill="#d62728"/>
<circle cx="164.30" cy="232.25" r="1.25" fill="#d62728"/>
<circle cx="175.55" cy="233.30" r="1.25" fill="#d62728"/>
<circle cx="186.80" cy="234.35" r="1.25" fill="#d62728"/>
<circle cx="198.05" cy="235.40" r="1.25" fill="#d62728"/>
<circle cx="209.30" cy="236.35" r="1.25" fill="#d62728"/>
<circle cx="220.55" cy="237.30" r="1.25" fill="#d62728"/>
<circle cx="231.80" cy="238.65" r="1.25" fill="#d62728"/>
<circle cx="243.05" cy="240.00" r="1.25" fill="#d62728"/>
<path d="M96.80 225.50 L108.05 226.70 L119.30 227.65 L130.55 228.60 L141.80 229.70 L153.05 230.80 L164.30 231.85 L175.55 232.90 L186.80 233.90 L198.05 234.90 L209.30 235.80 L220.55 236.70 L231.80 238.05 L243.05 239.40" stroke="#9467bd" stroke-width="1.15" fill="none" stroke-linejoin="round"/>
<path d="M96.80 223.50L98.15 225.50L96.80 227.50L95.45 225.50Z" fill="#9467bd"/>
<path d="M108.05 224.70L109.40 226.70L108.05 228.70L106.70 226.70Z" fill="#9467bd"/>
<path d="M119.30 225.65L120.65 227.65L119.30 229.65L117.95 227.65Z" fill="#9467bd"/>
<path d="M130.55 226.60L131.90 228.60L130.55 230.60L129.20 228.60Z" fill="#9467bd"/>
<path d="M141.80 227.70L143.15 229.70L141.80 231.70L140.45 229.70Z" fill="#9467bd"/>
<path d="M153.05 228.80L154.40 230.80L153.05 232.80L151.70 230.80Z" fill="#9467bd"/>
<path d="M164.30 229.85L165.65 231.85L164.30 233.85L162.95 231.85Z" fill="#9467bd"/>
<path d="M175.55 230.90L176.90 232.90L175.55 234.90L174.20 232.90Z" fill="#9467bd"/>
<path d="M186.80 231.90L188.15 233.90L186.80 235.90L185.45 233.90Z" fill="#9467bd"/>
<path d="M198.05 232.90L199.40 234.90L198.05 236.90L196.70 234.90Z" fill="#9467bd"/>
<path d="M209.30 233.80L210.65 235.80L209.30 237.80L207.95 235.80Z" fill="#9467bd"/>
<path d="M220.55 234.70L221.90 236.70L220.55 238.70L219.20 236.70Z" fill="#9467bd"/>
<path d="M231.80 236.05L233.15 238.05L231.80 240.05L230.45 238.05Z" fill="#9467bd"/>
<path d="M243.05 237.40L244.40 239.40L243.05 241.40L241.70 239.40Z" fill="#9467bd"/>
<path d="M108.05 226.50 L119.30 227.35 L130.55 228.20 L141.80 229.40 L153.05 230.60 L164.30 231.60 L175.55 232.60 L186.80 233.50 L198.05 234.40 L209.30 235.25 L220.55 236.10 L231.80 237.15 L243.05 238.20" stroke="#8c564b" stroke-width="1.15" fill="none" stroke-linejoin="round"/>
<circle cx="108.05" cy="226.50" r="1.45" fill="#8c564b"/>
<circle cx="119.30" cy="227.35" r="1.45" fill="#8c564b"/>
<circle cx="130.55" cy="228.20" r="1.45" fill="#8c564b"/>
<circle cx="141.80" cy="229.40" r="1.45" fill="#8c564b"/>
<circle cx="153.05" cy="230.60" r="1.45" fill="#8c564b"/>
<circle cx="164.30" cy="231.60" r="1.45" fill="#8c564b"/>
<circle cx="175.55" cy="232.60" r="1.45" fill="#8c564b"/>
<circle cx="186.80" cy="233.50" r="1.45" fill="#8c564b"/>
<circle cx="198.05" cy="234.40" r="1.45" fill="#8c564b"/>
<circle cx="209.30" cy="235.25" r="1.45" fill="#8c564b"/>
<circle cx="220.55" cy="236.10" r="1.45" fill="#8c564b"/>
<circle cx="231.80" cy="237.15" r="1.45" fill="#8c564b"/>
<circle cx="243.05" cy="238.20" r="1.45" fill="#8c564b"/>
<path d="M29.30 215.40V353.70M254.30 215.40V353.70" fill="none" stroke="#cdcdcd" stroke-width="1"/>
<path d="M28.80 215.40H254.80M28.80 353.70H254.80" fill="none" stroke="#b3b3b3" stroke-width="1"/>
<path d="M40.55 353.70v1.6M63.05 353.70v1.6M85.55 353.70v1.6M108.05 353.70v1.6M130.55 353.70v1.6M153.05 353.70v1.6M175.55 353.70v1.6M198.05 353.70v1.6M220.55 353.70v1.6M243.05 353.70v1.6M29.30 347.41h-1.6M29.30 315.98h-1.6M29.30 284.55h-1.6M29.30 253.12h-1.6M29.30 221.69h-1.6" stroke="#b3b3b3" stroke-width="0.8" fill="none"/>
<text x="40.55" y="360.70" font-size="7.65" text-anchor="middle" textLength="4.23" lengthAdjust="spacingAndGlyphs">0</text>
<text x="63.05" y="360.70" font-size="7.65" text-anchor="middle" textLength="4.23" lengthAdjust="spacingAndGlyphs">1</text>
<text x="85.55" y="360.70" font-size="7.65" text-anchor="middle" textLength="4.23" lengthAdjust="spacingAndGlyphs">2</text>
<text x="108.05" y="360.70" font-size="7.65" text-anchor="middle" textLength="4.23" lengthAdjust="spacingAndGlyphs">3</text>
<text x="130.55" y="360.70" font-size="7.65" text-anchor="middle" textLength="4.23" lengthAdjust="spacingAndGlyphs">4</text>
<text x="153.05" y="360.70" font-size="7.65" text-anchor="middle" textLength="4.23" lengthAdjust="spacingAndGlyphs">5</text>
<text x="175.55" y="360.70" font-size="7.65" text-anchor="middle" textLength="4.23" lengthAdjust="spacingAndGlyphs">6</text>
<text x="198.05" y="360.70" font-size="7.65" text-anchor="middle" textLength="4.23" lengthAdjust="spacingAndGlyphs">7</text>
<text x="220.55" y="360.70" font-size="7.65" text-anchor="middle" textLength="4.23" lengthAdjust="spacingAndGlyphs">8</text>
<text x="243.05" y="360.70" font-size="7.65" text-anchor="middle" textLength="4.23" lengthAdjust="spacingAndGlyphs">9</text>
<text x="27.30" y="350.11" font-size="7.65" text-anchor="end" textLength="14.81" lengthAdjust="spacingAndGlyphs">0.80</text>
<text x="27.30" y="318.68" font-size="7.65" text-anchor="end" textLength="14.81" lengthAdjust="spacingAndGlyphs">0.85</text>
<text x="27.30" y="287.25" font-size="7.65" text-anchor="end" textLength="14.81" lengthAdjust="spacingAndGlyphs">0.90</text>
<text x="27.30" y="255.82" font-size="7.65" text-anchor="end" textLength="14.81" lengthAdjust="spacingAndGlyphs">0.95</text>
<text x="27.30" y="224.39" font-size="7.65" text-anchor="end" textLength="14.81" lengthAdjust="spacingAndGlyphs">1.00</text>
<text x="141.80" y="368.50" font-size="7.09" text-anchor="middle" textLength="58.61" lengthAdjust="spacingAndGlyphs">Lead Time (Days)</text>
<text x="10.40" y="284.55" font-size="6.90" text-anchor="middle" textLength="72.87" lengthAdjust="spacingAndGlyphs" transform="rotate(-90 10.40 284.55)">Correlation Coefficient</text>
<text x="141.80" y="204.50" font-size="8.66" text-anchor="middle" textLength="23.65" lengthAdjust="spacingAndGlyphs">Miami</text>
<text x="15.60" y="205.10" font-size="6.89" font-weight="bold" textLength="9.19" lengthAdjust="spacingAndGlyphs">(c)</text>
<path d="M286.75 215.40V353.70M291.25 215.40V353.70M300.25 215.40V353.70M304.75 215.40V353.70M309.25 215.40V353.70M313.75 215.40V353.70M322.75 215.40V353.70M327.25 215.40V353.70M331.75 215.40V353.70M336.25 215.40V353.70M345.25 215.40V353.70M349.75 215.40V353.70M354.25 215.40V353.70M358.75 215.40V353.70M367.75 215.40V353.70M372.25 215.40V353.70M376.75 215.40V353.70M381.25 215.40V353.70M390.25 215.40V353.70M394.75 215.40V353.70M399.25 215.40V353.70M403.75 215.40V353.70M412.75 215.40V353.70M417.25 215.40V353.70M421.75 215.40V353.70M426.25 215.40V353.70M435.25 215.40V353.70M439.75 215.40V353.70M444.25 215.40V353.70M448.75 215.40V353.70M457.75 215.40V353.70M462.25 215.40V353.70M466.75 215.40V353.70M471.25 215.40V353.70M480.25 215.40V353.70M484.75 215.40V353.70M489.25 215.40V353.70M493.75 215.40V353.70M502.75 215.40V353.70M507.25 215.40V353.70M284.50 353.70H509.50M284.50 341.13H509.50M284.50 334.84H509.50M284.50 328.55H509.50M284.50 322.27H509.50M284.50 309.70H509.50M284.50 303.41H509.50M284.50 297.12H509.50M284.50 290.84H509.50M284.50 278.26H509.50M284.50 271.98H509.50M284.50 265.69H509.50M284.50 259.40H509.50M284.50 246.83H509.50M284.50 240.55H509.50M284.50 234.26H509.50M284.50 227.97H509.50M284.50 215.40H509.50" stroke="#f3f3f3" stroke-width="0.6" fill="none"/>
<path d="M295.75 215.40V353.70M318.25 215.40V353.70M340.75 215.40V353.70M363.25 215.40V353.70M385.75 215.40V353.70M408.25 215.40V353.70M430.75 215.40V353.70M453.25 215.40V353.70M475.75 215.40V353.70M498.25 215.40V353.70M284.50 347.41H509.50M284.50 315.98H509.50M284.50 284.55H509.50M284.50 253.12H509.50M284.50 221.69H509.50" stroke="#eaeaea" stroke-width="0.8" fill="none"/>
<path d="M307.00 224.20 L318.25 225.01 L329.50 225.82 L340.75 226.54 L352.00 227.25 L363.25 228.06 L374.50 229.17 L385.75 231.38 L397.00 232.39 L408.25 233.41 L419.50 237.12 L430.75 240.33 L442.00 243.34 L453.25 246.45 L464.50 248.86 L475.75 254.48 L487.00 259.59 L498.25 265.20 L498.25 273.20 L487.00 267.21 L475.75 261.72 L464.50 255.74 L453.25 252.95 L442.00 249.46 L430.75 246.07 L419.50 242.48 L408.25 238.39 L397.00 237.01 L385.75 235.62 L374.50 233.03 L363.25 231.54 L352.00 230.35 L340.75 229.26 L329.50 228.18 L318.25 226.99 L307.00 225.80Z" fill="#1f77b4" fill-opacity="0.12" stroke="none"/>
<path d="M318.25 223.10 L329.50 223.80 L340.75 224.20 L352.00 224.50 L363.25 225.00 L374.50 226.40 L385.75 227.80 L397.00 228.30 L408.25 229.40 L419.50 232.70 L430.75 235.10 L442.00 237.90 L453.25 240.60 L464.50 244.10 L475.75 248.00 L487.00 252.60 L498.25 256.90 L498.25 261.30 L487.00 256.80 L475.75 252.00 L464.50 247.90 L453.25 244.20 L442.00 241.30 L430.75 238.30 L419.50 235.70 L408.25 232.20 L397.00 230.90 L385.75 230.20 L374.50 228.60 L363.25 227.00 L352.00 226.30 L340.75 225.80 L329.50 225.20 L318.25 224.30Z" fill="#ff7f0e" fill-opacity="0.12" stroke="none"/>
<path d="M329.50 223.30 L340.75 223.52 L352.00 223.94 L363.25 224.26 L374.50 225.68 L385.75 226.40 L397.00 227.42 L408.25 228.44 L419.50 230.36 L430.75 232.28 L442.00 234.50 L453.25 237.32 L464.50 240.14 L475.75 243.66 L487.00 246.78 L498.25 251.80 L498.25 255.40 L487.00 250.22 L475.75 246.94 L464.50 243.26 L453.25 240.28 L442.00 237.30 L430.75 234.92 L419.50 232.84 L408.25 230.76 L397.00 229.58 L385.75 228.40 L374.50 227.52 L363.25 225.94 L352.00 225.46 L340.75 224.88 L329.50 224.50Z" fill="#2ca02c" fill-opacity="0.12" stroke="none"/>
<path d="M340.75 223.40 L352.00 223.63 L363.25 223.86 L374.50 224.59 L385.75 225.01 L397.00 225.74 L408.25 226.57 L419.50 228.00 L430.75 229.43 L442.00 232.56 L453.25 234.69 L464.50 237.01 L475.75 239.84 L487.00 242.77 L498.25 246.00 L498.25 249.00 L487.00 245.63 L475.75 242.56 L464.50 239.59 L453.25 237.11 L442.00 234.84 L430.75 231.57 L419.50 230.00 L408.25 228.43 L397.00 227.46 L385.75 226.59 L374.50 226.01 L363.25 225.14 L352.00 224.77 L340.75 224.40Z" fill="#d62728" fill-opacity="0.12" stroke="none"/>
<path d="M352.00 223.40 L363.25 223.63 L374.50 224.36 L385.75 224.69 L397.00 225.42 L408.25 226.15 L419.50 227.48 L430.75 228.82 L442.00 231.45 L453.25 233.28 L464.50 235.11 L475.75 237.54 L487.00 239.87 L498.25 242.90 L498.25 245.70 L487.00 242.53 L475.75 240.06 L464.50 237.49 L453.25 235.52 L442.00 233.55 L430.75 230.78 L419.50 229.32 L408.25 227.85 L397.00 226.98 L385.75 226.11 L374.50 225.64 L363.25 224.77 L352.00 224.40Z" fill="#9467bd" fill-opacity="0.12" stroke="none"/>
<path d="M363.25 223.70 L374.50 224.13 L385.75 224.47 L397.00 225.10 L408.25 225.83 L419.50 226.97 L430.75 228.30 L442.00 230.53 L453.25 231.97 L464.50 233.80 L475.75 235.13 L487.00 237.97 L498.25 240.40 L498.25 243.00 L487.00 240.43 L475.75 237.47 L464.50 236.00 L453.25 234.03 L442.00 232.47 L430.75 230.10 L419.50 228.63 L408.25 227.37 L397.00 226.50 L385.75 225.73 L374.50 225.27 L363.25 224.70Z" fill="#8c564b" fill-opacity="0.12" stroke="none"/>
<path d="M307.00 225.00 L318.25 226.00 L329.50 227.00 L340.75 227.90 L352.00 228.80 L363.25 229.80 L374.50 231.10 L385.75 233.50 L397.00 234.70 L408.25 235.90 L419.50 239.80 L430.75 243.20 L442.00 246.40 L453.25 249.70 L464.50 252.30 L475.75 258.10 L487.00 263.40 L498.25 269.20" stroke="#1f77b4" stroke-width="1.15" fill="none" stroke-linejoin="round"/>
<circle cx="307.00" cy="225.00" r="1.55" fill="#1f77b4"/>
<circle cx="318.25" cy="226.00" r="1.55" fill="#1f77b4"/>
<circle cx="329.50" cy="227.00" r="1.55" fill="#1f77b4"/>
<circle cx="340.75" cy="227.90" r="1.55" fill="#1f77b4"/>
<circle cx="352.00" cy="228.80" r="1.55" fill="#1f77b4"/>
<circle cx="363.25" cy="229.80" r="1.55" fill="#1f77b4"/>
<circle cx="374.50" cy="231.10" r="1.55" fill="#1f77b4"/>
<circle cx="385.75" cy="233.50" r="1.55" fill="#1f77b4"/>
<circle cx="397.00" cy="234.70" r="1.55" fill="#1f77b4"/>
<circle cx="408.25" cy="235.90" r="1.55" fill="#1f77b4"/>
<circle cx="419.50" cy="239.80" r="1.55" fill="#1f77b4"/>
<circle cx="430.75" cy="243.20" r="1.55" fill="#1f77b4"/>
<circle cx="442.00" cy="246.40" r="1.55" fill="#1f77b4"/>
<circle cx="453.25" cy="249.70" r="1.55" fill="#1f77b4"/>
<circle cx="464.50" cy="252.30" r="1.55" fill="#1f77b4"/>
<circle cx="475.75" cy="258.10" r="1.55" fill="#1f77b4"/>
<circle cx="487.00" cy="263.40" r="1.55" fill="#1f77b4"/>
<circle cx="498.25" cy="269.20" r="1.55" fill="#1f77b4"/>
<path d="M318.25 223.70 L329.50 224.50 L340.75 225.00 L352.00 225.40 L363.25 226.00 L374.50 227.50 L385.75 229.00 L397.00 229.60 L408.25 230.80 L419.50 234.20 L430.75 236.70 L442.00 239.60 L453.25 242.40 L464.50 246.00 L475.75 250.00 L487.00 254.70 L498.25 259.10" stroke="#ff7f0e" stroke-width="1.15" fill="none" stroke-linejoin="round"/>
<rect x="316.80" y="222.25" width="2.9" height="2.9" rx="0.7" fill="#ff7f0e"/>
<rect x="328.05" y="223.05" width="2.9" height="2.9" rx="0.7" fill="#ff7f0e"/>
<rect x="339.30" y="223.55" width="2.9" height="2.9" rx="0.7" fill="#ff7f0e"/>
<rect x="350.55" y="223.95" width="2.9" height="2.9" rx="0.7" fill="#ff7f0e"/>
<rect x="361.80" y="224.55" width="2.9" height="2.9" rx="0.7" fill="#ff7f0e"/>
<rect x="373.05" y="226.05" width="2.9" height="2.9" rx="0.7" fill="#ff7f0e"/>
<rect x="384.30" y="227.55" width="2.9" height="2.9" rx="0.7" fill="#ff7f0e"/>
<rect x="395.55" y="228.15" width="2.9" height="2.9" rx="0.7" fill="#ff7f0e"/>
<rect x="406.80" y="229.35" width="2.9" height="2.9" rx="0.7" fill="#ff7f0e"/>
<rect x="418.05" y="232.75" width="2.9" height="2.9" rx="0.7" fill="#ff7f0e"/>
<rect x="429.30" y="235.25" width="2.9" height="2.9" rx="0.7" fill="#ff7f0e"/>
<rect x="440.55" y="238.15" width="2.9" height="2.9" rx="0.7" fill="#ff7f0e"/>
<rect x="451.80" y="240.95" width="2.9" height="2.9" rx="0.7" fill="#ff7f0e"/>
<rect x="463.05" y="244.55" width="2.9" height="2.9" rx="0.7" fill="#ff7f0e"/>
<rect x="474.30" y="248.55" width="2.9" height="2.9" rx="0.7" fill="#ff7f0e"/>
<rect x="485.55" y="253.25" width="2.9" height="2.9" rx="0.7" fill="#ff7f0e"/>
<rect x="496.80" y="257.65" width="2.9" height="2.9" rx="0.7" fill="#ff7f0e"/>
<path d="M329.50 223.90 L340.75 224.20 L352.00 224.70 L363.25 225.10 L374.50 226.60 L385.75 227.40 L397.00 228.50 L408.25 229.60 L419.50 231.60 L430.75 233.60 L442.00 235.90 L453.25 238.80 L464.50 241.70 L475.75 245.30 L487.00 248.50 L498.25 253.60" stroke="#2ca02c" stroke-width="1.15" fill="none" stroke-linejoin="round"/>
<path d="M329.50 222.20L331.10 225.00L327.90 225.00Z" fill="#2ca02c"/>
<path d="M340.75 222.50L342.35 225.30L339.15 225.30Z" fill="#2ca02c"/>
<path d="M352.00 223.00L353.60 225.80L350.40 225.80Z" fill="#2ca02c"/>
<path d="M363.25 223.40L364.85 226.20L361.65 226.20Z" fill="#2ca02c"/>
<path d="M374.50 224.90L376.10 227.70L372.90 227.70Z" fill="#2ca02c"/>
<path d="M385.75 225.70L387.35 228.50L384.15 228.50Z" fill="#2ca02c"/>
<path d="M397.00 226.80L398.60 229.60L395.40 229.60Z" fill="#2ca02c"/>
<path d="M408.25 227.90L409.85 230.70L406.65 230.70Z" fill="#2ca02c"/>
<path d="M419.50 229.90L421.10 232.70L417.90 232.70Z" fill="#2ca02c"/>
<path d="M430.75 231.90L432.35 234.70L429.15 234.70Z" fill="#2ca02c"/>
<path d="M442.00 234.20L443.60 237.00L440.40 237.00Z" fill="#2ca02c"/>
<path d="M453.25 237.10L454.85 239.90L451.65 239.90Z" fill="#2ca02c"/>
<path d="M464.50 240.00L466.10 242.80L462.90 242.80Z" fill="#2ca02c"/>
<path d="M475.75 243.60L477.35 246.40L474.15 246.40Z" fill="#2ca02c"/>
<path d="M487.00 246.80L488.60 249.60L485.40 249.60Z" fill="#2ca02c"/>
<path d="M498.25 251.90L499.85 254.70L496.65 254.70Z" fill="#2ca02c"/>
<path d="M340.75 223.90 L352.00 224.20 L363.25 224.50 L374.50 225.30 L385.75 225.80 L397.00 226.60 L408.25 227.50 L419.50 229.00 L430.75 230.50 L442.00 233.70 L453.25 235.90 L464.50 238.30 L475.75 241.20 L487.00 244.20 L498.25 247.50" stroke="#d62728" stroke-width="1.15" fill="none" stroke-linejoin="round"/>
<circle cx="340.75" cy="223.90" r="1.25" fill="#d62728"/>
<circle cx="352.00" cy="224.20" r="1.25" fill="#d62728"/>
<circle cx="363.25" cy="224.50" r="1.25" fill="#d62728"/>
<circle cx="374.50" cy="225.30" r="1.25" fill="#d62728"/>
<circle cx="385.75" cy="225.80" r="1.25" fill="#d62728"/>
<circle cx="397.00" cy="226.60" r="1.25" fill="#d62728"/>
<circle cx="408.25" cy="227.50" r="1.25" fill="#d62728"/>
<circle cx="419.50" cy="229.00" r="1.25" fill="#d62728"/>
<circle cx="430.75" cy="230.50" r="1.25" fill="#d62728"/>
<circle cx="442.00" cy="233.70" r="1.25" fill="#d62728"/>
<circle cx="453.25" cy="235.90" r="1.25" fill="#d62728"/>
<circle cx="464.50" cy="238.30" r="1.25" fill="#d62728"/>
<circle cx="475.75" cy="241.20" r="1.25" fill="#d62728"/>
<circle cx="487.00" cy="244.20" r="1.25" fill="#d62728"/>
<circle cx="498.25" cy="247.50" r="1.25" fill="#d62728"/>
<path d="M352.00 223.90 L363.25 224.20 L374.50 225.00 L385.75 225.40 L397.00 226.20 L408.25 227.00 L419.50 228.40 L430.75 229.80 L442.00 232.50 L453.25 234.40 L464.50 236.30 L475.75 238.80 L487.00 241.20 L498.25 244.30" stroke="#9467bd" stroke-width="1.15" fill="none" stroke-linejoin="round"/>
<path d="M352.00 221.90L353.35 223.90L352.00 225.90L350.65 223.90Z" fill="#9467bd"/>
<path d="M363.25 222.20L364.60 224.20L363.25 226.20L361.90 224.20Z" fill="#9467bd"/>
<path d="M374.50 223.00L375.85 225.00L374.50 227.00L373.15 225.00Z" fill="#9467bd"/>
<path d="M385.75 223.40L387.10 225.40L385.75 227.40L384.40 225.40Z" fill="#9467bd"/>
<path d="M397.00 224.20L398.35 226.20L397.00 228.20L395.65 226.20Z" fill="#9467bd"/>
<path d="M408.25 225.00L409.60 227.00L408.25 229.00L406.90 227.00Z" fill="#9467bd"/>
<path d="M419.50 226.40L420.85 228.40L419.50 230.40L418.15 228.40Z" fill="#9467bd"/>
<path d="M430.75 227.80L432.10 229.80L430.75 231.80L429.40 229.80Z" fill="#9467bd"/>
<path d="M442.00 230.50L443.35 232.50L442.00 234.50L440.65 232.50Z" fill="#9467bd"/>
<path d="M453.25 232.40L454.60 234.40L453.25 236.40L451.90 234.40Z" fill="#9467bd"/>
<path d="M464.50 234.30L465.85 236.30L464.50 238.30L463.15 236.30Z" fill="#9467bd"/>
<path d="M475.75 236.80L477.10 238.80L475.75 240.80L474.40 238.80Z" fill="#9467bd"/>
<path d="M487.00 239.20L488.35 241.20L487.00 243.20L485.65 241.20Z" fill="#9467bd"/>
<path d="M498.25 242.30L499.60 244.30L498.25 246.30L496.90 244.30Z" fill="#9467bd"/>
<path d="M363.25 224.20 L374.50 224.70 L385.75 225.10 L397.00 225.80 L408.25 226.60 L419.50 227.80 L430.75 229.20 L442.00 231.50 L453.25 233.00 L464.50 234.90 L475.75 236.30 L487.00 239.20 L498.25 241.70" stroke="#8c564b" stroke-width="1.15" fill="none" stroke-linejoin="round"/>
<circle cx="363.25" cy="224.20" r="1.45" fill="#8c564b"/>
<circle cx="374.50" cy="224.70" r="1.45" fill="#8c564b"/>
<circle cx="385.75" cy="225.10" r="1.45" fill="#8c564b"/>
<circle cx="397.00" cy="225.80" r="1.45" fill="#8c564b"/>
<circle cx="408.25" cy="226.60" r="1.45" fill="#8c564b"/>
<circle cx="419.50" cy="227.80" r="1.45" fill="#8c564b"/>
<circle cx="430.75" cy="229.20" r="1.45" fill="#8c564b"/>
<circle cx="442.00" cy="231.50" r="1.45" fill="#8c564b"/>
<circle cx="453.25" cy="233.00" r="1.45" fill="#8c564b"/>
<circle cx="464.50" cy="234.90" r="1.45" fill="#8c564b"/>
<circle cx="475.75" cy="236.30" r="1.45" fill="#8c564b"/>
<circle cx="487.00" cy="239.20" r="1.45" fill="#8c564b"/>
<circle cx="498.25" cy="241.70" r="1.45" fill="#8c564b"/>
<path d="M284.50 215.40V353.70M509.50 215.40V353.70" fill="none" stroke="#cdcdcd" stroke-width="1"/>
<path d="M284.00 215.40H510.00M284.00 353.70H510.00" fill="none" stroke="#b3b3b3" stroke-width="1"/>
<path d="M295.75 353.70v1.6M318.25 353.70v1.6M340.75 353.70v1.6M363.25 353.70v1.6M385.75 353.70v1.6M408.25 353.70v1.6M430.75 353.70v1.6M453.25 353.70v1.6M475.75 353.70v1.6M498.25 353.70v1.6M284.50 347.41h-1.6M284.50 315.98h-1.6M284.50 284.55h-1.6M284.50 253.12h-1.6M284.50 221.69h-1.6" stroke="#b3b3b3" stroke-width="0.8" fill="none"/>
<text x="295.75" y="360.70" font-size="7.65" text-anchor="middle" textLength="4.23" lengthAdjust="spacingAndGlyphs">0</text>
<text x="318.25" y="360.70" font-size="7.65" text-anchor="middle" textLength="4.23" lengthAdjust="spacingAndGlyphs">1</text>
<text x="340.75" y="360.70" font-size="7.65" text-anchor="middle" textLength="4.23" lengthAdjust="spacingAndGlyphs">2</text>
<text x="363.25" y="360.70" font-size="7.65" text-anchor="middle" textLength="4.23" lengthAdjust="spacingAndGlyphs">3</text>
<text x="385.75" y="360.70" font-size="7.65" text-anchor="middle" textLength="4.23" lengthAdjust="spacingAndGlyphs">4</text>
<text x="408.25" y="360.70" font-size="7.65" text-anchor="middle" textLength="4.23" lengthAdjust="spacingAndGlyphs">5</text>
<text x="430.75" y="360.70" font-size="7.65" text-anchor="middle" textLength="4.23" lengthAdjust="spacingAndGlyphs">6</text>
<text x="453.25" y="360.70" font-size="7.65" text-anchor="middle" textLength="4.23" lengthAdjust="spacingAndGlyphs">7</text>
<text x="475.75" y="360.70" font-size="7.65" text-anchor="middle" textLength="4.23" lengthAdjust="spacingAndGlyphs">8</text>
<text x="498.25" y="360.70" font-size="7.65" text-anchor="middle" textLength="4.23" lengthAdjust="spacingAndGlyphs">9</text>
<text x="282.50" y="350.11" font-size="7.65" text-anchor="end" textLength="14.81" lengthAdjust="spacingAndGlyphs">0.80</text>
<text x="282.50" y="318.68" font-size="7.65" text-anchor="end" textLength="14.81" lengthAdjust="spacingAndGlyphs">0.85</text>
<text x="282.50" y="287.25" font-size="7.65" text-anchor="end" textLength="14.81" lengthAdjust="spacingAndGlyphs">0.90</text>
<text x="282.50" y="255.82" font-size="7.65" text-anchor="end" textLength="14.81" lengthAdjust="spacingAndGlyphs">0.95</text>
<text x="282.50" y="224.39" font-size="7.65" text-anchor="end" textLength="14.81" lengthAdjust="spacingAndGlyphs">1.00</text>
<text x="397.00" y="368.50" font-size="7.09" text-anchor="middle" textLength="58.61" lengthAdjust="spacingAndGlyphs">Lead Time (Days)</text>
<text x="265.60" y="284.55" font-size="6.90" text-anchor="middle" textLength="72.87" lengthAdjust="spacingAndGlyphs" transform="rotate(-90 265.60 284.55)">Correlation Coefficient</text>
<text x="397.00" y="204.50" font-size="8.66" text-anchor="middle" textLength="40.05" lengthAdjust="spacingAndGlyphs">Oklahoma</text>
<text x="270.80" y="205.10" font-size="6.89" font-weight="bold" textLength="9.94" lengthAdjust="spacingAndGlyphs">(d)</text>
<path d="M31.55 390.30V528.60M36.05 390.30V528.60M45.05 390.30V528.60M49.55 390.30V528.60M54.05 390.30V528.60M58.55 390.30V528.60M67.55 390.30V528.60M72.05 390.30V528.60M76.55 390.30V528.60M81.05 390.30V528.60M90.05 390.30V528.60M94.55 390.30V528.60M99.05 390.30V528.60M103.55 390.30V528.60M112.55 390.30V528.60M117.05 390.30V528.60M121.55 390.30V528.60M126.05 390.30V528.60M135.05 390.30V528.60M139.55 390.30V528.60M144.05 390.30V528.60M148.55 390.30V528.60M157.55 390.30V528.60M162.05 390.30V528.60M166.55 390.30V528.60M171.05 390.30V528.60M180.05 390.30V528.60M184.55 390.30V528.60M189.05 390.30V528.60M193.55 390.30V528.60M202.55 390.30V528.60M207.05 390.30V528.60M211.55 390.30V528.60M216.05 390.30V528.60M225.05 390.30V528.60M229.55 390.30V528.60M234.05 390.30V528.60M238.55 390.30V528.60M247.55 390.30V528.60M252.05 390.30V528.60M29.30 528.60H254.30M29.30 516.03H254.30M29.30 509.74H254.30M29.30 503.45H254.30M29.30 490.88H254.30M29.30 484.60H254.30M29.30 478.31H254.30M29.30 465.74H254.30M29.30 459.45H254.30M29.30 453.16H254.30M29.30 440.59H254.30M29.30 434.30H254.30M29.30 428.02H254.30M29.30 415.45H254.30M29.30 409.16H254.30M29.30 402.87H254.30M29.30 390.30H254.30" stroke="#f3f3f3" stroke-width="0.6" fill="none"/>
<path d="M40.55 390.30V528.60M63.05 390.30V528.60M85.55 390.30V528.60M108.05 390.30V528.60M130.55 390.30V528.60M153.05 390.30V528.60M175.55 390.30V528.60M198.05 390.30V528.60M220.55 390.30V528.60M243.05 390.30V528.60M29.30 522.31H254.30M29.30 497.17H254.30M29.30 472.02H254.30M29.30 446.88H254.30M29.30 421.73H254.30M29.30 396.59H254.30" stroke="#eaeaea" stroke-width="0.8" fill="none"/>
<path d="M51.80 412.00 L63.05 421.19 L74.30 426.49 L85.55 428.38 L96.80 434.98 L108.05 440.07 L119.30 442.16 L130.55 445.86 L141.80 448.85 L153.05 448.55 L164.30 452.04 L175.55 454.54 L186.80 456.13 L198.05 457.22 L209.30 457.12 L220.55 464.31 L231.80 466.81 L243.05 469.60 L243.05 479.20 L231.80 476.19 L220.55 473.49 L209.30 466.08 L198.05 465.98 L186.80 464.67 L175.55 462.86 L164.30 460.16 L153.05 456.45 L141.80 456.55 L130.55 453.34 L119.30 449.44 L108.05 447.13 L96.80 441.82 L85.55 435.02 L74.30 432.91 L63.05 427.41 L51.80 418.00Z" fill="#1f77b4" fill-opacity="0.12" stroke="none"/>
<path d="M63.05 411.60 L74.30 416.88 L85.55 420.65 L96.80 424.23 L108.05 428.90 L119.30 433.68 L130.55 435.05 L141.80 435.82 L153.05 439.90 L164.30 441.38 L175.55 444.35 L186.80 446.73 L198.05 446.70 L209.30 450.07 L220.55 452.95 L231.80 457.73 L243.05 462.10 L243.05 470.10 L231.80 465.48 L220.55 460.45 L209.30 457.32 L198.05 453.70 L186.80 453.48 L175.55 450.85 L164.30 447.62 L153.05 445.90 L141.80 441.57 L130.55 440.55 L119.30 438.93 L108.05 433.90 L96.80 428.98 L85.55 425.15 L74.30 421.12 L63.05 415.60Z" fill="#ff7f0e" fill-opacity="0.12" stroke="none"/>
<path d="M74.30 412.60 L85.55 416.67 L96.80 419.93 L108.05 423.30 L119.30 427.07 L130.55 429.63 L141.80 431.80 L153.05 434.27 L164.30 437.43 L175.55 439.10 L186.80 441.47 L198.05 443.83 L209.30 445.30 L220.55 447.67 L231.80 452.63 L243.05 462.30 L243.05 469.90 L231.80 459.97 L220.55 454.73 L209.30 452.10 L198.05 450.37 L186.80 447.73 L175.55 445.10 L164.30 443.17 L153.05 439.73 L141.80 437.00 L130.55 434.57 L119.30 431.73 L108.05 427.70 L96.80 424.07 L85.55 420.53 L74.30 416.20Z" fill="#2ca02c" fill-opacity="0.12" stroke="none"/>
<path d="M85.55 413.70 L96.80 416.89 L108.05 419.77 L119.30 422.36 L130.55 425.54 L141.80 428.43 L153.05 430.81 L164.30 432.90 L175.55 435.09 L186.80 437.87 L198.05 440.26 L209.30 442.64 L220.55 445.63 L231.80 453.11 L243.05 452.90 L243.05 461.90 L231.80 461.69 L220.55 453.77 L209.30 450.36 L198.05 447.54 L186.80 444.73 L175.55 441.51 L164.30 438.90 L153.05 436.39 L141.80 433.57 L130.55 430.26 L119.30 426.64 L108.05 423.63 L96.80 420.31 L85.55 416.70Z" fill="#d62728" fill-opacity="0.12" stroke="none"/>
<path d="M96.80 414.40 L108.05 417.49 L119.30 420.08 L130.55 422.68 L141.80 425.97 L153.05 429.06 L164.30 431.35 L175.55 433.55 L186.80 436.54 L198.05 439.33 L209.30 441.82 L220.55 447.72 L231.80 447.91 L243.05 453.70 L243.05 464.70 L231.80 458.29 L220.55 457.48 L209.30 450.98 L198.05 447.87 L186.80 444.46 L175.55 440.85 L164.30 438.05 L153.05 435.14 L141.80 431.43 L130.55 427.52 L119.30 424.32 L108.05 421.11 L96.80 417.40Z" fill="#9467bd" fill-opacity="0.12" stroke="none"/>
<path d="M108.05 415.20 L119.30 418.12 L130.55 421.35 L141.80 424.07 L153.05 426.80 L164.30 429.52 L175.55 431.45 L186.80 434.68 L198.05 438.00 L209.30 441.23 L220.55 444.05 L231.80 449.18 L243.05 450.30 L243.05 462.30 L231.80 460.43 L220.55 454.55 L209.30 450.98 L198.05 447.00 L186.80 442.93 L175.55 438.95 L164.30 436.27 L153.05 432.80 L141.80 429.32 L130.55 425.85 L119.30 421.88 L108.05 418.20Z" fill="#8c564b" fill-opacity="0.12" stroke="none"/>
<path d="M51.80 415.00 L63.05 424.30 L74.30 429.70 L85.55 431.70 L96.80 438.40 L108.05 443.60 L119.30 445.80 L130.55 449.60 L141.80 452.70 L153.05 452.50 L164.30 456.10 L175.55 458.70 L186.80 460.40 L198.05 461.60 L209.30 461.60 L220.55 468.90 L231.80 471.50 L243.05 474.40" stroke="#1f77b4" stroke-width="1.15" fill="none" stroke-linejoin="round"/>
<circle cx="51.80" cy="415.00" r="1.55" fill="#1f77b4"/>
<circle cx="63.05" cy="424.30" r="1.55" fill="#1f77b4"/>
<circle cx="74.30" cy="429.70" r="1.55" fill="#1f77b4"/>
<circle cx="85.55" cy="431.70" r="1.55" fill="#1f77b4"/>
<circle cx="96.80" cy="438.40" r="1.55" fill="#1f77b4"/>
<circle cx="108.05" cy="443.60" r="1.55" fill="#1f77b4"/>
<circle cx="119.30" cy="445.80" r="1.55" fill="#1f77b4"/>
<circle cx="130.55" cy="449.60" r="1.55" fill="#1f77b4"/>
<circle cx="141.80" cy="452.70" r="1.55" fill="#1f77b4"/>
<circle cx="153.05" cy="452.50" r="1.55" fill="#1f77b4"/>
<circle cx="164.30" cy="456.10" r="1.55" fill="#1f77b4"/>
<circle cx="175.55" cy="458.70" r="1.55" fill="#1f77b4"/>
<circle cx="186.80" cy="460.40" r="1.55" fill="#1f77b4"/>
<circle cx="198.05" cy="461.60" r="1.55" fill="#1f77b4"/>
<circle cx="209.30" cy="461.60" r="1.55" fill="#1f77b4"/>
<circle cx="220.55" cy="468.90" r="1.55" fill="#1f77b4"/>
<circle cx="231.80" cy="471.50" r="1.55" fill="#1f77b4"/>
<circle cx="243.05" cy="474.40" r="1.55" fill="#1f77b4"/>
<path d="M63.05 413.60 L74.30 419.00 L85.55 422.90 L96.80 426.60 L108.05 431.40 L119.30 436.30 L130.55 437.80 L141.80 438.70 L153.05 442.90 L164.30 444.50 L175.55 447.60 L186.80 450.10 L198.05 450.20 L209.30 453.70 L220.55 456.70 L231.80 461.60 L243.05 466.10" stroke="#ff7f0e" stroke-width="1.15" fill="none" stroke-linejoin="round"/>
<rect x="61.60" y="412.15" width="2.9" height="2.9" rx="0.7" fill="#ff7f0e"/>
<rect x="72.85" y="417.55" width="2.9" height="2.9" rx="0.7" fill="#ff7f0e"/>
<rect x="84.10" y="421.45" width="2.9" height="2.9" rx="0.7" fill="#ff7f0e"/>
<rect x="95.35" y="425.15" width="2.9" height="2.9" rx="0.7" fill="#ff7f0e"/>
<rect x="106.60" y="429.95" width="2.9" height="2.9" rx="0.7" fill="#ff7f0e"/>
<rect x="117.85" y="434.85" width="2.9" height="2.9" rx="0.7" fill="#ff7f0e"/>
<rect x="129.10" y="436.35" width="2.9" height="2.9" rx="0.7" fill="#ff7f0e"/>
<rect x="140.35" y="437.25" width="2.9" height="2.9" rx="0.7" fill="#ff7f0e"/>
<rect x="151.60" y="441.45" width="2.9" height="2.9" rx="0.7" fill="#ff7f0e"/>
<rect x="162.85" y="443.05" width="2.9" height="2.9" rx="0.7" fill="#ff7f0e"/>
<rect x="174.10" y="446.15" width="2.9" height="2.9" rx="0.7" fill="#ff7f0e"/>
<rect x="185.35" y="448.65" width="2.9" height="2.9" rx="0.7" fill="#ff7f0e"/>
<rect x="196.60" y="448.75" width="2.9" height="2.9" rx="0.7" fill="#ff7f0e"/>
<rect x="207.85" y="452.25" width="2.9" height="2.9" rx="0.7" fill="#ff7f0e"/>
<rect x="219.10" y="455.25" width="2.9" height="2.9" rx="0.7" fill="#ff7f0e"/>
<rect x="230.35" y="460.15" width="2.9" height="2.9" rx="0.7" fill="#ff7f0e"/>
<rect x="241.60" y="464.65" width="2.9" height="2.9" rx="0.7" fill="#ff7f0e"/>
<path d="M74.30 414.40 L85.55 418.60 L96.80 422.00 L108.05 425.50 L119.30 429.40 L130.55 432.10 L141.80 434.40 L153.05 437.00 L164.30 440.30 L175.55 442.10 L186.80 444.60 L198.05 447.10 L209.30 448.70 L220.55 451.20 L231.80 456.30 L243.05 466.10" stroke="#2ca02c" stroke-width="1.15" fill="none" stroke-linejoin="round"/>
<path d="M74.30 412.70L75.90 415.50L72.70 415.50Z" fill="#2ca02c"/>
<path d="M85.55 416.90L87.15 419.70L83.95 419.70Z" fill="#2ca02c"/>
<path d="M96.80 420.30L98.40 423.10L95.20 423.10Z" fill="#2ca02c"/>
<path d="M108.05 423.80L109.65 426.60L106.45 426.60Z" fill="#2ca02c"/>
<path d="M119.30 427.70L120.90 430.50L117.70 430.50Z" fill="#2ca02c"/>
<path d="M130.55 430.40L132.15 433.20L128.95 433.20Z" fill="#2ca02c"/>
<path d="M141.80 432.70L143.40 435.50L140.20 435.50Z" fill="#2ca02c"/>
<path d="M153.05 435.30L154.65 438.10L151.45 438.10Z" fill="#2ca02c"/>
<path d="M164.30 438.60L165.90 441.40L162.70 441.40Z" fill="#2ca02c"/>
<path d="M175.55 440.40L177.15 443.20L173.95 443.20Z" fill="#2ca02c"/>
<path d="M186.80 442.90L188.40 445.70L185.20 445.70Z" fill="#2ca02c"/>
<path d="M198.05 445.40L199.65 448.20L196.45 448.20Z" fill="#2ca02c"/>
<path d="M209.30 447.00L210.90 449.80L207.70 449.80Z" fill="#2ca02c"/>
<path d="M220.55 449.50L222.15 452.30L218.95 452.30Z" fill="#2ca02c"/>
<path d="M231.80 454.60L233.40 457.40L230.20 457.40Z" fill="#2ca02c"/>
<path d="M243.05 464.40L244.65 467.20L241.45 467.20Z" fill="#2ca02c"/>
<path d="M85.55 415.20 L96.80 418.60 L108.05 421.70 L119.30 424.50 L130.55 427.90 L141.80 431.00 L153.05 433.60 L164.30 435.90 L175.55 438.30 L186.80 441.30 L198.05 443.90 L209.30 446.50 L220.55 449.70 L231.80 457.40 L243.05 457.40" stroke="#d62728" stroke-width="1.15" fill="none" stroke-linejoin="round"/>
<circle cx="85.55" cy="415.20" r="1.25" fill="#d62728"/>
<circle cx="96.80" cy="418.60" r="1.25" fill="#d62728"/>
<circle cx="108.05" cy="421.70" r="1.25" fill="#d62728"/>
<circle cx="119.30" cy="424.50" r="1.25" fill="#d62728"/>
<circle cx="130.55" cy="427.90" r="1.25" fill="#d62728"/>
<circle cx="141.80" cy="431.00" r="1.25" fill="#d62728"/>
<circle cx="153.05" cy="433.60" r="1.25" fill="#d62728"/>
<circle cx="164.30" cy="435.90" r="1.25" fill="#d62728"/>
<circle cx="175.55" cy="438.30" r="1.25" fill="#d62728"/>
<circle cx="186.80" cy="441.30" r="1.25" fill="#d62728"/>
<circle cx="198.05" cy="443.90" r="1.25" fill="#d62728"/>
<circle cx="209.30" cy="446.50" r="1.25" fill="#d62728"/>
<circle cx="220.55" cy="449.70" r="1.25" fill="#d62728"/>
<circle cx="231.80" cy="457.40" r="1.25" fill="#d62728"/>
<circle cx="243.05" cy="457.40" r="1.25" fill="#d62728"/>
<path d="M96.80 415.90 L108.05 419.30 L119.30 422.20 L130.55 425.10 L141.80 428.70 L153.05 432.10 L164.30 434.70 L175.55 437.20 L186.80 440.50 L198.05 443.60 L209.30 446.40 L220.55 452.60 L231.80 453.10 L243.05 459.20" stroke="#9467bd" stroke-width="1.15" fill="none" stroke-linejoin="round"/>
<path d="M96.80 413.90L98.15 415.90L96.80 417.90L95.45 415.90Z" fill="#9467bd"/>
<path d="M108.05 417.30L109.40 419.30L108.05 421.30L106.70 419.30Z" fill="#9467bd"/>
<path d="M119.30 420.20L120.65 422.20L119.30 424.20L117.95 422.20Z" fill="#9467bd"/>
<path d="M130.55 423.10L131.90 425.10L130.55 427.10L129.20 425.10Z" fill="#9467bd"/>
<path d="M141.80 426.70L143.15 428.70L141.80 430.70L140.45 428.70Z" fill="#9467bd"/>
<path d="M153.05 430.10L154.40 432.10L153.05 434.10L151.70 432.10Z" fill="#9467bd"/>
<path d="M164.30 432.70L165.65 434.70L164.30 436.70L162.95 434.70Z" fill="#9467bd"/>
<path d="M175.55 435.20L176.90 437.20L175.55 439.20L174.20 437.20Z" fill="#9467bd"/>
<path d="M186.80 438.50L188.15 440.50L186.80 442.50L185.45 440.50Z" fill="#9467bd"/>
<path d="M198.05 441.60L199.40 443.60L198.05 445.60L196.70 443.60Z" fill="#9467bd"/>
<path d="M209.30 444.40L210.65 446.40L209.30 448.40L207.95 446.40Z" fill="#9467bd"/>
<path d="M220.55 450.60L221.90 452.60L220.55 454.60L219.20 452.60Z" fill="#9467bd"/>
<path d="M231.80 451.10L233.15 453.10L231.80 455.10L230.45 453.10Z" fill="#9467bd"/>
<path d="M243.05 457.20L244.40 459.20L243.05 461.20L241.70 459.20Z" fill="#9467bd"/>
<path d="M108.05 416.70 L119.30 420.00 L130.55 423.60 L141.80 426.70 L153.05 429.80 L164.30 432.90 L175.55 435.20 L186.80 438.80 L198.05 442.50 L209.30 446.10 L220.55 449.30 L231.80 454.80 L243.05 456.30" stroke="#8c564b" stroke-width="1.15" fill="none" stroke-linejoin="round"/>
<circle cx="108.05" cy="416.70" r="1.45" fill="#8c564b"/>
<circle cx="119.30" cy="420.00" r="1.45" fill="#8c564b"/>
<circle cx="130.55" cy="423.60" r="1.45" fill="#8c564b"/>
<circle cx="141.80" cy="426.70" r="1.45" fill="#8c564b"/>
<circle cx="153.05" cy="429.80" r="1.45" fill="#8c564b"/>
<circle cx="164.30" cy="432.90" r="1.45" fill="#8c564b"/>
<circle cx="175.55" cy="435.20" r="1.45" fill="#8c564b"/>
<circle cx="186.80" cy="438.80" r="1.45" fill="#8c564b"/>
<circle cx="198.05" cy="442.50" r="1.45" fill="#8c564b"/>
<circle cx="209.30" cy="446.10" r="1.45" fill="#8c564b"/>
<circle cx="220.55" cy="449.30" r="1.45" fill="#8c564b"/>
<circle cx="231.80" cy="454.80" r="1.45" fill="#8c564b"/>
<circle cx="243.05" cy="456.30" r="1.45" fill="#8c564b"/>
<path d="M29.30 390.30V528.60M254.30 390.30V528.60" fill="none" stroke="#cdcdcd" stroke-width="1"/>
<path d="M28.80 390.30H254.80M28.80 528.60H254.80" fill="none" stroke="#b3b3b3" stroke-width="1"/>
<path d="M40.55 528.60v1.6M63.05 528.60v1.6M85.55 528.60v1.6M108.05 528.60v1.6M130.55 528.60v1.6M153.05 528.60v1.6M175.55 528.60v1.6M198.05 528.60v1.6M220.55 528.60v1.6M243.05 528.60v1.6M29.30 522.31h-1.6M29.30 497.17h-1.6M29.30 472.02h-1.6M29.30 446.88h-1.6M29.30 421.73h-1.6M29.30 396.59h-1.6" stroke="#b3b3b3" stroke-width="0.8" fill="none"/>
<text x="40.55" y="535.60" font-size="7.65" text-anchor="middle" textLength="4.23" lengthAdjust="spacingAndGlyphs">0</text>
<text x="63.05" y="535.60" font-size="7.65" text-anchor="middle" textLength="4.23" lengthAdjust="spacingAndGlyphs">1</text>
<text x="85.55" y="535.60" font-size="7.65" text-anchor="middle" textLength="4.23" lengthAdjust="spacingAndGlyphs">2</text>
<text x="108.05" y="535.60" font-size="7.65" text-anchor="middle" textLength="4.23" lengthAdjust="spacingAndGlyphs">3</text>
<text x="130.55" y="535.60" font-size="7.65" text-anchor="middle" textLength="4.23" lengthAdjust="spacingAndGlyphs">4</text>
<text x="153.05" y="535.60" font-size="7.65" text-anchor="middle" textLength="4.23" lengthAdjust="spacingAndGlyphs">5</text>
<text x="175.55" y="535.60" font-size="7.65" text-anchor="middle" textLength="4.23" lengthAdjust="spacingAndGlyphs">6</text>
<text x="198.05" y="535.60" font-size="7.65" text-anchor="middle" textLength="4.23" lengthAdjust="spacingAndGlyphs">7</text>
<text x="220.55" y="535.60" font-size="7.65" text-anchor="middle" textLength="4.23" lengthAdjust="spacingAndGlyphs">8</text>
<text x="243.05" y="535.60" font-size="7.65" text-anchor="middle" textLength="4.23" lengthAdjust="spacingAndGlyphs">9</text>
<text x="27.30" y="525.01" font-size="7.65" text-anchor="end" textLength="10.58" lengthAdjust="spacingAndGlyphs">0.0</text>
<text x="27.30" y="499.87" font-size="7.65" text-anchor="end" textLength="10.58" lengthAdjust="spacingAndGlyphs">0.2</text>
<text x="27.30" y="474.72" font-size="7.65" text-anchor="end" textLength="10.58" lengthAdjust="spacingAndGlyphs">0.4</text>
<text x="27.30" y="449.58" font-size="7.65" text-anchor="end" textLength="10.58" lengthAdjust="spacingAndGlyphs">0.6</text>
<text x="27.30" y="424.43" font-size="7.65" text-anchor="end" textLength="10.58" lengthAdjust="spacingAndGlyphs">0.8</text>
<text x="27.30" y="399.29" font-size="7.65" text-anchor="end" textLength="10.58" lengthAdjust="spacingAndGlyphs">1.0</text>
<text x="141.80" y="543.40" font-size="7.09" text-anchor="middle" textLength="58.61" lengthAdjust="spacingAndGlyphs">Lead Time (Days)</text>
<text x="14.30" y="459.45" font-size="6.90" text-anchor="middle" textLength="72.87" lengthAdjust="spacingAndGlyphs" transform="rotate(-90 14.30 459.45)">Correlation Coefficient</text>
<text x="141.80" y="379.40" font-size="8.66" text-anchor="middle" textLength="39.70" lengthAdjust="spacingAndGlyphs">Singapore</text>
<text x="15.60" y="380.00" font-size="6.89" font-weight="bold" textLength="9.71" lengthAdjust="spacingAndGlyphs">(e)</text>
<path d="M286.75 390.30V528.60M291.25 390.30V528.60M300.25 390.30V528.60M304.75 390.30V528.60M309.25 390.30V528.60M313.75 390.30V528.60M322.75 390.30V528.60M327.25 390.30V528.60M331.75 390.30V528.60M336.25 390.30V528.60M345.25 390.30V528.60M349.75 390.30V528.60M354.25 390.30V528.60M358.75 390.30V528.60M367.75 390.30V528.60M372.25 390.30V528.60M376.75 390.30V528.60M381.25 390.30V528.60M390.25 390.30V528.60M394.75 390.30V528.60M399.25 390.30V528.60M403.75 390.30V528.60M412.75 390.30V528.60M417.25 390.30V528.60M421.75 390.30V528.60M426.25 390.30V528.60M435.25 390.30V528.60M439.75 390.30V528.60M444.25 390.30V528.60M448.75 390.30V528.60M457.75 390.30V528.60M462.25 390.30V528.60M466.75 390.30V528.60M471.25 390.30V528.60M480.25 390.30V528.60M484.75 390.30V528.60M489.25 390.30V528.60M493.75 390.30V528.60M502.75 390.30V528.60M507.25 390.30V528.60M284.50 528.60H509.50M284.50 516.03H509.50M284.50 509.74H509.50M284.50 503.45H509.50M284.50 497.17H509.50M284.50 484.60H509.50M284.50 478.31H509.50M284.50 472.02H509.50M284.50 465.74H509.50M284.50 453.16H509.50M284.50 446.88H509.50M284.50 440.59H509.50M284.50 434.30H509.50M284.50 421.73H509.50M284.50 415.45H509.50M284.50 409.16H509.50M284.50 402.87H509.50M284.50 390.30H509.50" stroke="#f3f3f3" stroke-width="0.6" fill="none"/>
<path d="M295.75 390.30V528.60M318.25 390.30V528.60M340.75 390.30V528.60M363.25 390.30V528.60M385.75 390.30V528.60M408.25 390.30V528.60M430.75 390.30V528.60M453.25 390.30V528.60M475.75 390.30V528.60M498.25 390.30V528.60M284.50 522.31H509.50M284.50 490.88H509.50M284.50 459.45H509.50M284.50 428.02H509.50M284.50 396.59H509.50" stroke="#eaeaea" stroke-width="0.8" fill="none"/>
<path d="M307.00 398.70 L318.25 399.85 L329.50 400.89 L340.75 402.04 L352.00 403.09 L363.25 404.64 L374.50 406.38 L385.75 407.63 L397.00 409.48 L408.25 411.42 L419.50 413.17 L430.75 415.02 L442.00 417.46 L453.25 419.91 L464.50 422.96 L475.75 425.61 L487.00 427.15 L498.25 428.40 L498.25 431.40 L487.00 430.05 L475.75 428.39 L464.50 425.64 L453.25 422.49 L442.00 419.94 L430.75 417.38 L419.50 415.43 L408.25 413.58 L397.00 411.52 L385.75 409.57 L374.50 408.22 L363.25 406.36 L352.00 404.71 L340.75 403.56 L329.50 402.31 L318.25 401.15 L307.00 399.90Z" fill="#1f77b4" fill-opacity="0.12" stroke="none"/>
<path d="M318.25 397.70 L329.50 398.86 L340.75 399.61 L352.00 400.67 L363.25 401.72 L374.50 402.88 L385.75 403.54 L397.00 404.69 L408.25 406.55 L419.50 407.71 L430.75 409.06 L442.00 411.22 L453.25 414.08 L464.50 416.23 L475.75 418.39 L487.00 419.74 L498.25 422.00 L498.25 424.40 L487.00 422.06 L475.75 420.61 L464.50 418.37 L453.25 416.12 L442.00 413.18 L430.75 410.94 L419.50 409.49 L408.25 408.25 L397.00 406.31 L385.75 405.06 L374.50 404.32 L363.25 403.07 L352.00 401.93 L340.75 400.79 L329.50 399.94 L318.25 398.70Z" fill="#ff7f0e" fill-opacity="0.12" stroke="none"/>
<path d="M329.50 398.20 L340.75 398.77 L352.00 399.43 L363.25 400.40 L374.50 401.37 L385.75 402.33 L397.00 403.30 L408.25 404.67 L419.50 405.83 L430.75 407.00 L442.00 408.97 L453.25 410.43 L464.50 412.00 L475.75 413.77 L487.00 415.13 L498.25 418.00 L498.25 420.00 L487.00 417.07 L475.75 415.63 L464.50 413.80 L453.25 412.17 L442.00 410.63 L430.75 408.60 L419.50 407.37 L408.25 406.13 L397.00 404.70 L385.75 403.67 L374.50 402.63 L363.25 401.60 L352.00 400.57 L340.75 399.83 L329.50 399.20Z" fill="#2ca02c" fill-opacity="0.12" stroke="none"/>
<path d="M340.75 398.20 L352.00 398.77 L363.25 399.14 L374.50 400.61 L385.75 401.09 L397.00 401.76 L408.25 402.83 L419.50 403.90 L430.75 405.07 L442.00 406.34 L453.25 407.41 L464.50 408.49 L475.75 409.96 L487.00 411.63 L498.25 413.80 L498.25 415.60 L487.00 413.37 L475.75 411.64 L464.50 410.11 L453.25 408.99 L442.00 407.86 L430.75 406.53 L419.50 405.30 L408.25 404.17 L397.00 403.04 L385.75 402.31 L374.50 401.79 L363.25 400.26 L352.00 399.83 L340.75 399.20Z" fill="#d62728" fill-opacity="0.12" stroke="none"/>
<path d="M352.00 398.20 L363.25 398.77 L374.50 400.14 L385.75 400.61 L397.00 401.38 L408.25 402.05 L419.50 403.12 L430.75 403.98 L442.00 405.25 L453.25 406.22 L464.50 407.39 L475.75 408.46 L487.00 409.93 L498.25 411.60 L498.25 413.40 L487.00 411.67 L475.75 410.14 L464.50 409.01 L453.25 407.78 L442.00 406.75 L430.75 405.42 L419.50 404.48 L408.25 403.35 L397.00 402.62 L385.75 401.79 L374.50 401.26 L363.25 399.83 L352.00 399.20Z" fill="#9467bd" fill-opacity="0.12" stroke="none"/>
<path d="M363.25 398.50 L374.50 399.17 L385.75 399.83 L397.00 400.60 L408.25 401.37 L419.50 402.03 L430.75 402.80 L442.00 403.87 L453.25 404.53 L464.50 405.50 L475.75 406.57 L487.00 408.03 L498.25 409.40 L498.25 411.20 L487.00 409.77 L475.75 408.23 L464.50 407.10 L453.25 406.07 L442.00 405.33 L430.75 404.20 L419.50 403.37 L408.25 402.63 L397.00 401.80 L385.75 400.97 L374.50 400.23 L363.25 399.50Z" fill="#8c564b" fill-opacity="0.12" stroke="none"/>
<path d="M307.00 399.30 L318.25 400.50 L329.50 401.60 L340.75 402.80 L352.00 403.90 L363.25 405.50 L374.50 407.30 L385.75 408.60 L397.00 410.50 L408.25 412.50 L419.50 414.30 L430.75 416.20 L442.00 418.70 L453.25 421.20 L464.50 424.30 L475.75 427.00 L487.00 428.60 L498.25 429.90" stroke="#1f77b4" stroke-width="1.15" fill="none" stroke-linejoin="round"/>
<circle cx="307.00" cy="399.30" r="1.55" fill="#1f77b4"/>
<circle cx="318.25" cy="400.50" r="1.55" fill="#1f77b4"/>
<circle cx="329.50" cy="401.60" r="1.55" fill="#1f77b4"/>
<circle cx="340.75" cy="402.80" r="1.55" fill="#1f77b4"/>
<circle cx="352.00" cy="403.90" r="1.55" fill="#1f77b4"/>
<circle cx="363.25" cy="405.50" r="1.55" fill="#1f77b4"/>
<circle cx="374.50" cy="407.30" r="1.55" fill="#1f77b4"/>
<circle cx="385.75" cy="408.60" r="1.55" fill="#1f77b4"/>
<circle cx="397.00" cy="410.50" r="1.55" fill="#1f77b4"/>
<circle cx="408.25" cy="412.50" r="1.55" fill="#1f77b4"/>
<circle cx="419.50" cy="414.30" r="1.55" fill="#1f77b4"/>
<circle cx="430.75" cy="416.20" r="1.55" fill="#1f77b4"/>
<circle cx="442.00" cy="418.70" r="1.55" fill="#1f77b4"/>
<circle cx="453.25" cy="421.20" r="1.55" fill="#1f77b4"/>
<circle cx="464.50" cy="424.30" r="1.55" fill="#1f77b4"/>
<circle cx="475.75" cy="427.00" r="1.55" fill="#1f77b4"/>
<circle cx="487.00" cy="428.60" r="1.55" fill="#1f77b4"/>
<circle cx="498.25" cy="429.90" r="1.55" fill="#1f77b4"/>
<path d="M318.25 398.20 L329.50 399.40 L340.75 400.20 L352.00 401.30 L363.25 402.40 L374.50 403.60 L385.75 404.30 L397.00 405.50 L408.25 407.40 L419.50 408.60 L430.75 410.00 L442.00 412.20 L453.25 415.10 L464.50 417.30 L475.75 419.50 L487.00 420.90 L498.25 423.20" stroke="#ff7f0e" stroke-width="1.15" fill="none" stroke-linejoin="round"/>
<rect x="316.80" y="396.75" width="2.9" height="2.9" rx="0.7" fill="#ff7f0e"/>
<rect x="328.05" y="397.95" width="2.9" height="2.9" rx="0.7" fill="#ff7f0e"/>
<rect x="339.30" y="398.75" width="2.9" height="2.9" rx="0.7" fill="#ff7f0e"/>
<rect x="350.55" y="399.85" width="2.9" height="2.9" rx="0.7" fill="#ff7f0e"/>
<rect x="361.80" y="400.95" width="2.9" height="2.9" rx="0.7" fill="#ff7f0e"/>
<rect x="373.05" y="402.15" width="2.9" height="2.9" rx="0.7" fill="#ff7f0e"/>
<rect x="384.30" y="402.85" width="2.9" height="2.9" rx="0.7" fill="#ff7f0e"/>
<rect x="395.55" y="404.05" width="2.9" height="2.9" rx="0.7" fill="#ff7f0e"/>
<rect x="406.80" y="405.95" width="2.9" height="2.9" rx="0.7" fill="#ff7f0e"/>
<rect x="418.05" y="407.15" width="2.9" height="2.9" rx="0.7" fill="#ff7f0e"/>
<rect x="429.30" y="408.55" width="2.9" height="2.9" rx="0.7" fill="#ff7f0e"/>
<rect x="440.55" y="410.75" width="2.9" height="2.9" rx="0.7" fill="#ff7f0e"/>
<rect x="451.80" y="413.65" width="2.9" height="2.9" rx="0.7" fill="#ff7f0e"/>
<rect x="463.05" y="415.85" width="2.9" height="2.9" rx="0.7" fill="#ff7f0e"/>
<rect x="474.30" y="418.05" width="2.9" height="2.9" rx="0.7" fill="#ff7f0e"/>
<rect x="485.55" y="419.45" width="2.9" height="2.9" rx="0.7" fill="#ff7f0e"/>
<rect x="496.80" y="421.75" width="2.9" height="2.9" rx="0.7" fill="#ff7f0e"/>
<path d="M329.50 398.70 L340.75 399.30 L352.00 400.00 L363.25 401.00 L374.50 402.00 L385.75 403.00 L397.00 404.00 L408.25 405.40 L419.50 406.60 L430.75 407.80 L442.00 409.80 L453.25 411.30 L464.50 412.90 L475.75 414.70 L487.00 416.10 L498.25 419.00" stroke="#2ca02c" stroke-width="1.15" fill="none" stroke-linejoin="round"/>
<path d="M329.50 397.00L331.10 399.80L327.90 399.80Z" fill="#2ca02c"/>
<path d="M340.75 397.60L342.35 400.40L339.15 400.40Z" fill="#2ca02c"/>
<path d="M352.00 398.30L353.60 401.10L350.40 401.10Z" fill="#2ca02c"/>
<path d="M363.25 399.30L364.85 402.10L361.65 402.10Z" fill="#2ca02c"/>
<path d="M374.50 400.30L376.10 403.10L372.90 403.10Z" fill="#2ca02c"/>
<path d="M385.75 401.30L387.35 404.10L384.15 404.10Z" fill="#2ca02c"/>
<path d="M397.00 402.30L398.60 405.10L395.40 405.10Z" fill="#2ca02c"/>
<path d="M408.25 403.70L409.85 406.50L406.65 406.50Z" fill="#2ca02c"/>
<path d="M419.50 404.90L421.10 407.70L417.90 407.70Z" fill="#2ca02c"/>
<path d="M430.75 406.10L432.35 408.90L429.15 408.90Z" fill="#2ca02c"/>
<path d="M442.00 408.10L443.60 410.90L440.40 410.90Z" fill="#2ca02c"/>
<path d="M453.25 409.60L454.85 412.40L451.65 412.40Z" fill="#2ca02c"/>
<path d="M464.50 411.20L466.10 414.00L462.90 414.00Z" fill="#2ca02c"/>
<path d="M475.75 413.00L477.35 415.80L474.15 415.80Z" fill="#2ca02c"/>
<path d="M487.00 414.40L488.60 417.20L485.40 417.20Z" fill="#2ca02c"/>
<path d="M498.25 417.30L499.85 420.10L496.65 420.10Z" fill="#2ca02c"/>
<path d="M340.75 398.70 L352.00 399.30 L363.25 399.70 L374.50 401.20 L385.75 401.70 L397.00 402.40 L408.25 403.50 L419.50 404.60 L430.75 405.80 L442.00 407.10 L453.25 408.20 L464.50 409.30 L475.75 410.80 L487.00 412.50 L498.25 414.70" stroke="#d62728" stroke-width="1.15" fill="none" stroke-linejoin="round"/>
<circle cx="340.75" cy="398.70" r="1.25" fill="#d62728"/>
<circle cx="352.00" cy="399.30" r="1.25" fill="#d62728"/>
<circle cx="363.25" cy="399.70" r="1.25" fill="#d62728"/>
<circle cx="374.50" cy="401.20" r="1.25" fill="#d62728"/>
<circle cx="385.75" cy="401.70" r="1.25" fill="#d62728"/>
<circle cx="397.00" cy="402.40" r="1.25" fill="#d62728"/>
<circle cx="408.25" cy="403.50" r="1.25" fill="#d62728"/>
<circle cx="419.50" cy="404.60" r="1.25" fill="#d62728"/>
<circle cx="430.75" cy="405.80" r="1.25" fill="#d62728"/>
<circle cx="442.00" cy="407.10" r="1.25" fill="#d62728"/>
<circle cx="453.25" cy="408.20" r="1.25" fill="#d62728"/>
<circle cx="464.50" cy="409.30" r="1.25" fill="#d62728"/>
<circle cx="475.75" cy="410.80" r="1.25" fill="#d62728"/>
<circle cx="487.00" cy="412.50" r="1.25" fill="#d62728"/>
<circle cx="498.25" cy="414.70" r="1.25" fill="#d62728"/>
<path d="M352.00 398.70 L363.25 399.30 L374.50 400.70 L385.75 401.20 L397.00 402.00 L408.25 402.70 L419.50 403.80 L430.75 404.70 L442.00 406.00 L453.25 407.00 L464.50 408.20 L475.75 409.30 L487.00 410.80 L498.25 412.50" stroke="#9467bd" stroke-width="1.15" fill="none" stroke-linejoin="round"/>
<path d="M352.00 396.70L353.35 398.70L352.00 400.70L350.65 398.70Z" fill="#9467bd"/>
<path d="M363.25 397.30L364.60 399.30L363.25 401.30L361.90 399.30Z" fill="#9467bd"/>
<path d="M374.50 398.70L375.85 400.70L374.50 402.70L373.15 400.70Z" fill="#9467bd"/>
<path d="M385.75 399.20L387.10 401.20L385.75 403.20L384.40 401.20Z" fill="#9467bd"/>
<path d="M397.00 400.00L398.35 402.00L397.00 404.00L395.65 402.00Z" fill="#9467bd"/>
<path d="M408.25 400.70L409.60 402.70L408.25 404.70L406.90 402.70Z" fill="#9467bd"/>
<path d="M419.50 401.80L420.85 403.80L419.50 405.80L418.15 403.80Z" fill="#9467bd"/>
<path d="M430.75 402.70L432.10 404.70L430.75 406.70L429.40 404.70Z" fill="#9467bd"/>
<path d="M442.00 404.00L443.35 406.00L442.00 408.00L440.65 406.00Z" fill="#9467bd"/>
<path d="M453.25 405.00L454.60 407.00L453.25 409.00L451.90 407.00Z" fill="#9467bd"/>
<path d="M464.50 406.20L465.85 408.20L464.50 410.20L463.15 408.20Z" fill="#9467bd"/>
<path d="M475.75 407.30L477.10 409.30L475.75 411.30L474.40 409.30Z" fill="#9467bd"/>
<path d="M487.00 408.80L488.35 410.80L487.00 412.80L485.65 410.80Z" fill="#9467bd"/>
<path d="M498.25 410.50L499.60 412.50L498.25 414.50L496.90 412.50Z" fill="#9467bd"/>
<path d="M363.25 399.00 L374.50 399.70 L385.75 400.40 L397.00 401.20 L408.25 402.00 L419.50 402.70 L430.75 403.50 L442.00 404.60 L453.25 405.30 L464.50 406.30 L475.75 407.40 L487.00 408.90 L498.25 410.30" stroke="#8c564b" stroke-width="1.15" fill="none" stroke-linejoin="round"/>
<circle cx="363.25" cy="399.00" r="1.45" fill="#8c564b"/>
<circle cx="374.50" cy="399.70" r="1.45" fill="#8c564b"/>
<circle cx="385.75" cy="400.40" r="1.45" fill="#8c564b"/>
<circle cx="397.00" cy="401.20" r="1.45" fill="#8c564b"/>
<circle cx="408.25" cy="402.00" r="1.45" fill="#8c564b"/>
<circle cx="419.50" cy="402.70" r="1.45" fill="#8c564b"/>
<circle cx="430.75" cy="403.50" r="1.45" fill="#8c564b"/>
<circle cx="442.00" cy="404.60" r="1.45" fill="#8c564b"/>
<circle cx="453.25" cy="405.30" r="1.45" fill="#8c564b"/>
<circle cx="464.50" cy="406.30" r="1.45" fill="#8c564b"/>
<circle cx="475.75" cy="407.40" r="1.45" fill="#8c564b"/>
<circle cx="487.00" cy="408.90" r="1.45" fill="#8c564b"/>
<circle cx="498.25" cy="410.30" r="1.45" fill="#8c564b"/>
<path d="M284.50 390.30V528.60M509.50 390.30V528.60" fill="none" stroke="#cdcdcd" stroke-width="1"/>
<path d="M284.00 390.30H510.00M284.00 528.60H510.00" fill="none" stroke="#b3b3b3" stroke-width="1"/>
<path d="M295.75 528.60v1.6M318.25 528.60v1.6M340.75 528.60v1.6M363.25 528.60v1.6M385.75 528.60v1.6M408.25 528.60v1.6M430.75 528.60v1.6M453.25 528.60v1.6M475.75 528.60v1.6M498.25 528.60v1.6M284.50 522.31h-1.6M284.50 490.88h-1.6M284.50 459.45h-1.6M284.50 428.02h-1.6M284.50 396.59h-1.6" stroke="#b3b3b3" stroke-width="0.8" fill="none"/>
<text x="295.75" y="535.60" font-size="7.65" text-anchor="middle" textLength="4.23" lengthAdjust="spacingAndGlyphs">0</text>
<text x="318.25" y="535.60" font-size="7.65" text-anchor="middle" textLength="4.23" lengthAdjust="spacingAndGlyphs">1</text>
<text x="340.75" y="535.60" font-size="7.65" text-anchor="middle" textLength="4.23" lengthAdjust="spacingAndGlyphs">2</text>
<text x="363.25" y="535.60" font-size="7.65" text-anchor="middle" textLength="4.23" lengthAdjust="spacingAndGlyphs">3</text>
<text x="385.75" y="535.60" font-size="7.65" text-anchor="middle" textLength="4.23" lengthAdjust="spacingAndGlyphs">4</text>
<text x="408.25" y="535.60" font-size="7.65" text-anchor="middle" textLength="4.23" lengthAdjust="spacingAndGlyphs">5</text>
<text x="430.75" y="535.60" font-size="7.65" text-anchor="middle" textLength="4.23" lengthAdjust="spacingAndGlyphs">6</text>
<text x="453.25" y="535.60" font-size="7.65" text-anchor="middle" textLength="4.23" lengthAdjust="spacingAndGlyphs">7</text>
<text x="475.75" y="535.60" font-size="7.65" text-anchor="middle" textLength="4.23" lengthAdjust="spacingAndGlyphs">8</text>
<text x="498.25" y="535.60" font-size="7.65" text-anchor="middle" textLength="4.23" lengthAdjust="spacingAndGlyphs">9</text>
<text x="282.50" y="525.01" font-size="7.65" text-anchor="end" textLength="14.81" lengthAdjust="spacingAndGlyphs">0.80</text>
<text x="282.50" y="493.58" font-size="7.65" text-anchor="end" textLength="14.81" lengthAdjust="spacingAndGlyphs">0.85</text>
<text x="282.50" y="462.15" font-size="7.65" text-anchor="end" textLength="14.81" lengthAdjust="spacingAndGlyphs">0.90</text>
<text x="282.50" y="430.72" font-size="7.65" text-anchor="end" textLength="14.81" lengthAdjust="spacingAndGlyphs">0.95</text>
<text x="282.50" y="399.29" font-size="7.65" text-anchor="end" textLength="14.81" lengthAdjust="spacingAndGlyphs">1.00</text>
<text x="397.00" y="543.40" font-size="7.09" text-anchor="middle" textLength="58.61" lengthAdjust="spacingAndGlyphs">Lead Time (Days)</text>
<text x="265.60" y="459.45" font-size="6.90" text-anchor="middle" textLength="72.87" lengthAdjust="spacingAndGlyphs" transform="rotate(-90 265.60 459.45)">Correlation Coefficient</text>
<text x="397.00" y="379.40" font-size="8.66" text-anchor="middle" textLength="28.91" lengthAdjust="spacingAndGlyphs">Suzhou</text>
<text x="270.80" y="380.00" font-size="6.89" font-weight="bold" textLength="8.23" lengthAdjust="spacingAndGlyphs">(f)</text>
<rect x="357.9" y="495.3" width="148.10" height="30.00" rx="1.5" fill="#fff" fill-opacity="0.8" stroke="#d6d6d6" stroke-width="0.7"/>
<path d="M359.30 499.90H373.10" stroke="#1f77b4" stroke-width="1.1"/>
<circle cx="366.20" cy="499.90" r="1.55" fill="#1f77b4"/>
<text x="377.90" y="502.20" font-size="7.00" textLength="47.72" lengthAdjust="spacingAndGlyphs">1 day-average</text>
<path d="M359.30 509.60H373.10" stroke="#ff7f0e" stroke-width="1.1"/>
<rect x="364.75" y="508.15" width="2.9" height="2.9" rx="0.7" fill="#ff7f0e"/>
<text x="377.90" y="511.90" font-size="7.00" textLength="47.72" lengthAdjust="spacingAndGlyphs">2 day-average</text>
<path d="M359.30 519.10H373.10" stroke="#2ca02c" stroke-width="1.1"/>
<path d="M366.20 517.40L367.80 520.20L364.60 520.20Z" fill="#2ca02c"/>
<text x="377.90" y="521.40" font-size="7.00" textLength="47.72" lengthAdjust="spacingAndGlyphs">3 day-average</text>
<path d="M437.40 499.90H451.20" stroke="#d62728" stroke-width="1.1"/>
<circle cx="444.30" cy="499.90" r="1.25" fill="#d62728"/>
<text x="456.20" y="502.20" font-size="7.00" textLength="47.72" lengthAdjust="spacingAndGlyphs">4 day-average</text>
<path d="M437.40 509.60H451.20" stroke="#9467bd" stroke-width="1.1"/>
<path d="M444.30 507.60L445.65 509.60L444.30 511.60L442.95 509.60Z" fill="#9467bd"/>
<text x="456.20" y="511.90" font-size="7.00" textLength="47.72" lengthAdjust="spacingAndGlyphs">5 day-average</text>
<path d="M437.40 519.10H451.20" stroke="#8c564b" stroke-width="1.1"/>
<circle cx="444.30" cy="519.10" r="1.45" fill="#8c564b"/>
<text x="456.20" y="521.40" font-size="7.00" textLength="47.72" lengthAdjust="spacingAndGlyphs">6 day-average</text>
</svg>
</body></html>
